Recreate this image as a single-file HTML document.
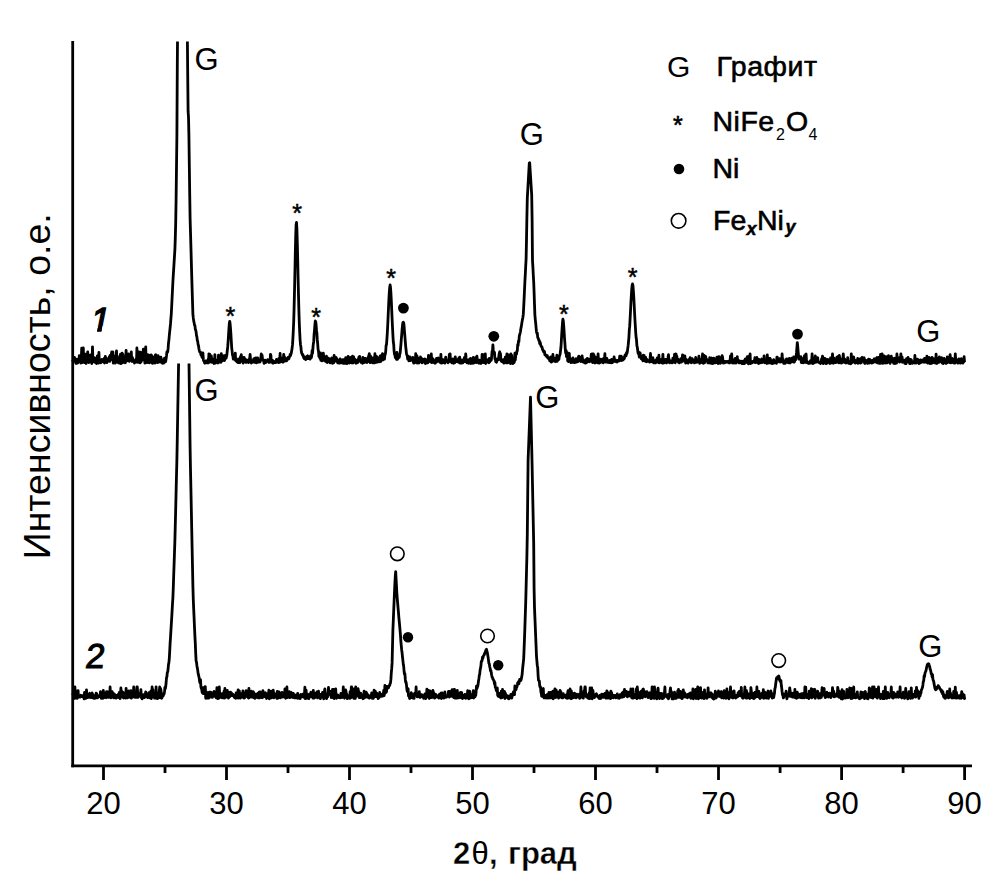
<!DOCTYPE html>
<html><head><meta charset="utf-8"><style>
html,body{margin:0;padding:0;background:#fff;width:1004px;height:892px;overflow:hidden}
svg{display:block}
</style></head><body>
<svg width="1004" height="892" viewBox="0 0 1004 892">
<style>
text{font-family:'Liberation Sans', sans-serif;fill:#000}
.tl{font-size:31px}
.g{font-size:31px}
.st{font-size:25px;stroke:#000;stroke-width:0.5px}
.lg{font-size:28px}
.lb text{font-size:28.5px;stroke:#000;stroke-width:0.6px}
.xl text{font-size:31px;font-weight:bold;stroke:#fff;stroke-width:0.35px;paint-order:normal}
</style>
<g fill="none" stroke="#000" stroke-width="2.8" stroke-linejoin="round">
<path d="M72.5 359.6 L72.9 360.5 L73.3 361.0 L73.7 359.4 L74.1 361.1 L74.5 357.4 L74.9 359.3 L75.3 359.8 L75.7 362.8 L76.1 363.4 L76.5 362.7 L76.9 359.1 L77.3 359.8 L77.7 363.1 L78.1 359.1 L78.5 361.9 L78.9 361.9 L79.3 355.7 L79.7 360.0 L80.1 359.4 L80.5 359.4 L80.9 363.1 L81.3 359.2 L81.7 348.1 L82.1 362.6 L82.5 357.3 L82.9 356.8 L83.3 348.0 L83.7 361.6 L84.1 361.1 L84.5 362.6 L84.9 360.3 L85.3 354.2 L85.7 361.9 L86.1 363.5 L86.5 360.0 L86.9 356.8 L87.3 360.8 L87.7 351.8 L88.1 360.6 L88.5 360.1 L88.9 362.5 L89.3 361.0 L89.7 356.9 L90.1 356.9 L90.5 354.8 L90.9 357.3 L91.3 358.3 L91.7 363.5 L92.1 362.1 L92.5 346.9 L92.9 361.5 L93.3 357.7 L93.7 360.3 L94.1 357.6 L94.5 359.9 L94.9 362.4 L95.3 362.0 L95.7 358.9 L96.1 361.4 L96.5 363.5 L96.9 358.2 L97.3 355.9 L97.7 356.4 L98.1 356.3 L98.5 363.1 L98.9 352.3 L99.3 360.5 L99.7 362.2 L100.1 361.3 L100.5 361.9 L100.9 362.7 L101.3 360.2 L101.7 359.6 L102.1 360.7 L102.5 359.6 L102.9 360.6 L103.3 361.9 L103.7 361.6 L104.1 358.4 L104.5 363.0 L104.9 361.5 L105.3 356.5 L105.7 359.4 L106.1 357.8 L106.5 360.1 L106.9 362.6 L107.3 361.2 L107.7 359.8 L108.1 361.2 L108.5 360.6 L108.9 359.6 L109.3 356.8 L109.7 361.3 L110.1 355.4 L110.5 360.1 L110.9 356.3 L111.3 355.5 L111.7 351.8 L112.1 355.9 L112.5 355.8 L112.9 352.0 L113.3 363.2 L113.7 362.3 L114.1 356.0 L114.5 359.5 L114.9 359.5 L115.3 363.0 L115.7 362.2 L116.1 357.6 L116.5 350.8 L116.9 361.6 L117.3 362.0 L117.7 361.8 L118.1 358.3 L118.5 362.9 L118.9 359.9 L119.3 363.0 L119.7 356.2 L120.1 359.4 L120.5 354.2 L120.9 363.6 L121.3 363.5 L121.7 361.6 L122.1 353.1 L122.5 362.6 L122.9 354.3 L123.3 359.5 L123.7 359.5 L124.1 357.4 L124.5 362.3 L124.9 361.6 L125.3 362.7 L125.7 359.7 L126.1 350.3 L126.5 361.1 L126.9 358.2 L127.3 358.7 L127.7 359.3 L128.1 360.5 L128.5 354.0 L128.9 359.7 L129.3 361.3 L129.7 355.3 L130.1 356.8 L130.5 355.5 L130.9 360.3 L131.3 351.9 L131.7 359.8 L132.1 361.5 L132.5 357.6 L132.9 360.7 L133.3 359.9 L133.7 360.9 L134.1 360.4 L134.5 363.1 L134.9 362.0 L135.3 361.8 L135.7 360.6 L136.1 358.9 L136.5 362.2 L136.9 348.0 L137.3 360.3 L137.7 358.4 L138.1 362.4 L138.5 362.1 L138.9 351.8 L139.3 357.4 L139.7 360.3 L140.1 362.8 L140.5 352.1 L140.9 362.1 L141.3 361.2 L141.7 360.3 L142.1 358.5 L142.5 359.8 L142.9 359.9 L143.3 349.2 L143.7 359.4 L144.1 358.1 L144.5 356.7 L144.9 363.2 L145.3 358.5 L145.7 346.9 L146.1 361.8 L146.5 359.8 L146.9 362.5 L147.3 362.5 L147.7 354.7 L148.1 361.1 L148.5 360.1 L148.9 360.7 L149.3 362.9 L149.7 360.3 L150.1 355.1 L150.5 361.8 L150.9 358.1 L151.3 354.9 L151.7 362.6 L152.1 356.2 L152.5 363.4 L152.9 357.2 L153.3 360.8 L153.7 362.5 L154.1 360.2 L154.5 361.5 L154.9 363.2 L155.3 355.2 L155.7 354.7 L156.1 362.3 L156.5 361.0 L156.9 361.2 L157.3 360.6 L157.7 362.7 L158.1 355.7 L158.5 359.6 L158.9 362.2 L159.3 361.2 L159.7 361.8 L160.1 360.4 L160.5 357.2 L160.9 357.2 L161.3 362.4 L161.7 359.4 L162.1 362.1 L162.5 363.2 L162.9 362.4 L163.3 359.8 L163.7 363.0 L164.1 361.7 L164.5 358.2 L164.9 361.7 L165.3 361.8 L165.7 361.3 L166.1 358.7 L166.5 355.9 L166.9 351.9 L167.3 352.4 L167.7 351.8 L168.1 348.7 L168.5 343.0 L168.9 340.1 L169.3 335.5 L169.7 331.7 L170.1 327.8 L170.5 323.9 L170.9 318.6 L171.3 313.8 L171.7 306.0 L172.1 297.7 L172.5 289.7 L172.9 281.8 L173.3 274.8 L173.7 268.8 L174.1 262.3 L174.5 255.8 L174.9 249.4 L175.3 238.3 L175.7 222.8 L176.1 199.3 L176.5 167.5 L176.9 135.8 L177.3 66.6 L177.5 41.5 M187.4 41.5 L187.7 73.5 L188.1 111.4 L188.5 117.0 L188.9 134.4 L189.3 163.9 L189.7 193.1 L190.1 218.3 L190.5 232.2 L190.9 246.1 L191.3 260.6 L191.7 274.9 L192.1 288.4 L192.5 301.4 L192.9 314.1 L193.3 317.9 L193.7 320.9 L194.1 322.6 L194.5 325.1 L194.9 325.4 L195.3 329.1 L195.7 330.0 L196.1 331.9 L196.5 335.5 L196.9 336.8 L197.3 340.3 L197.7 341.4 L198.1 344.7 L198.5 345.5 L198.9 348.5 L199.3 350.5 L199.7 352.0 L200.1 351.8 L200.5 352.0 L200.9 354.8 L201.3 355.2 L201.7 355.4 L202.1 357.4 L202.5 354.9 L202.9 352.9 L203.3 359.2 L203.7 361.0 L204.1 361.0 L204.5 362.6 L204.9 363.2 L205.3 362.5 L205.7 360.8 L206.1 361.9 L206.5 362.7 L206.9 362.8 L207.3 361.3 L207.7 361.9 L208.1 359.5 L208.5 362.8 L208.9 353.8 L209.3 361.5 L209.7 354.2 L210.1 361.9 L210.5 360.1 L210.9 362.1 L211.3 355.9 L211.7 359.5 L212.1 362.4 L212.5 361.6 L212.9 359.5 L213.3 362.4 L213.7 362.2 L214.1 363.5 L214.5 360.6 L214.9 354.6 L215.3 363.2 L215.7 362.8 L216.1 360.9 L216.5 360.3 L216.9 360.4 L217.3 361.6 L217.7 361.9 L218.1 363.0 L218.5 355.1 L218.9 357.2 L219.3 362.0 L219.7 360.9 L220.1 361.3 L220.5 361.5 L220.9 362.2 L221.3 353.6 L221.7 357.6 L222.1 358.8 L222.5 360.8 L222.9 359.7 L223.3 355.8 L223.7 359.8 L224.1 355.8 L224.5 360.6 L224.9 357.9 L225.3 355.4 L225.7 356.7 L226.1 358.2 L226.5 356.5 L226.9 354.6 L227.3 350.5 L227.7 346.9 L228.1 341.8 L228.5 335.7 L228.9 329.0 L229.3 323.7 L229.7 321.3 L230.1 323.5 L230.5 328.3 L230.9 334.0 L231.3 341.0 L231.7 347.6 L232.1 351.2 L232.5 355.1 L232.9 355.8 L233.3 359.0 L233.7 358.4 L234.1 358.7 L234.5 358.1 L234.9 359.6 L235.3 353.1 L235.7 360.7 L236.1 358.3 L236.5 361.0 L236.9 361.8 L237.3 361.2 L237.7 362.3 L238.1 360.3 L238.5 362.7 L238.9 358.8 L239.3 360.9 L239.7 359.3 L240.1 362.5 L240.5 356.7 L240.9 357.8 L241.3 354.6 L241.7 361.2 L242.1 359.1 L242.5 361.2 L242.9 357.7 L243.3 363.1 L243.7 361.0 L244.1 357.3 L244.5 359.0 L244.9 358.9 L245.3 359.2 L245.7 360.8 L246.1 362.5 L246.5 360.1 L246.9 361.9 L247.3 361.6 L247.7 361.4 L248.1 361.2 L248.5 362.6 L248.9 359.5 L249.3 360.8 L249.7 358.1 L250.1 354.4 L250.5 359.3 L250.9 360.9 L251.3 363.0 L251.7 361.3 L252.1 360.8 L252.5 360.6 L252.9 361.1 L253.3 362.1 L253.7 358.9 L254.1 360.8 L254.5 358.4 L254.9 362.3 L255.3 360.5 L255.7 357.9 L256.1 357.9 L256.5 362.8 L256.9 361.3 L257.3 361.8 L257.7 357.9 L258.1 360.2 L258.5 362.2 L258.9 361.2 L259.3 362.0 L259.7 361.1 L260.1 361.9 L260.5 360.7 L260.9 357.8 L261.3 353.8 L261.7 359.1 L262.1 355.2 L262.5 359.5 L262.9 359.3 L263.3 360.1 L263.7 361.3 L264.1 363.4 L264.5 362.6 L264.9 361.5 L265.3 360.3 L265.7 362.5 L266.1 361.1 L266.5 361.4 L266.9 361.3 L267.3 361.0 L267.7 359.7 L268.1 361.7 L268.5 361.3 L268.9 362.4 L269.3 361.7 L269.7 362.3 L270.1 360.1 L270.5 354.3 L270.9 355.4 L271.3 362.0 L271.7 360.0 L272.1 360.8 L272.5 360.1 L272.9 363.2 L273.3 362.1 L273.7 361.3 L274.1 362.7 L274.5 362.4 L274.9 362.3 L275.3 362.3 L275.7 362.6 L276.1 361.3 L276.5 359.4 L276.9 360.3 L277.3 361.3 L277.7 361.1 L278.1 360.7 L278.5 362.7 L278.9 358.4 L279.3 361.7 L279.7 362.3 L280.1 353.5 L280.5 361.9 L280.9 361.0 L281.3 361.5 L281.7 358.1 L282.1 360.8 L282.5 361.9 L282.9 362.2 L283.3 360.9 L283.7 354.4 L284.1 361.3 L284.5 356.8 L284.9 360.9 L285.3 359.9 L285.7 359.0 L286.1 359.5 L286.5 360.9 L286.9 359.8 L287.3 358.2 L287.7 359.2 L288.1 357.4 L288.5 359.2 L288.9 358.7 L289.3 357.2 L289.7 356.7 L290.1 354.5 L290.5 355.6 L290.9 354.2 L291.3 353.1 L291.7 350.7 L292.1 348.1 L292.5 344.9 L292.9 338.7 L293.3 330.6 L293.7 321.6 L294.1 308.0 L294.5 291.6 L294.9 272.7 L295.3 253.7 L295.7 236.4 L296.1 224.8 L296.5 222.4 L296.9 228.9 L297.3 242.6 L297.7 259.1 L298.1 278.2 L298.5 295.1 L298.9 310.8 L299.3 323.1 L299.7 332.3 L300.1 340.0 L300.5 344.7 L300.9 346.8 L301.3 351.4 L301.7 353.3 L302.1 353.6 L302.5 355.0 L302.9 354.5 L303.3 356.2 L303.7 357.6 L304.1 358.5 L304.5 356.8 L304.9 358.4 L305.3 357.7 L305.7 359.6 L306.1 359.1 L306.5 357.8 L306.9 356.4 L307.3 356.4 L307.7 355.8 L308.1 358.6 L308.5 356.7 L308.9 358.0 L309.3 358.8 L309.7 359.0 L310.1 359.1 L310.5 355.9 L310.9 357.4 L311.3 357.6 L311.7 356.1 L312.1 350.7 L312.5 353.4 L312.9 348.6 L313.3 344.0 L313.7 341.7 L314.1 334.4 L314.5 330.3 L314.9 325.0 L315.3 321.0 L315.7 321.5 L316.1 324.8 L316.5 330.2 L316.9 333.5 L317.3 339.9 L317.7 344.0 L318.1 349.5 L318.5 351.0 L318.9 356.4 L319.3 356.9 L319.7 357.0 L320.1 358.7 L320.5 352.9 L320.9 360.4 L321.3 358.3 L321.7 357.7 L322.1 360.9 L322.5 358.0 L322.9 359.2 L323.3 353.2 L323.7 356.4 L324.1 360.4 L324.5 358.1 L324.9 359.6 L325.3 361.3 L325.7 359.2 L326.1 359.6 L326.5 356.2 L326.9 362.4 L327.3 362.5 L327.7 362.0 L328.1 359.4 L328.5 358.2 L328.9 361.1 L329.3 360.4 L329.7 360.9 L330.1 362.9 L330.5 362.2 L330.9 358.8 L331.3 359.0 L331.7 358.0 L332.1 359.5 L332.5 363.3 L332.9 360.5 L333.3 360.3 L333.7 362.8 L334.1 355.3 L334.5 361.4 L334.9 358.8 L335.3 359.3 L335.7 359.8 L336.1 357.3 L336.5 361.4 L336.9 358.8 L337.3 360.2 L337.7 362.8 L338.1 362.2 L338.5 362.8 L338.9 363.1 L339.3 360.2 L339.7 363.0 L340.1 358.8 L340.5 361.7 L340.9 361.7 L341.3 362.9 L341.7 360.5 L342.1 362.6 L342.5 359.8 L342.9 359.7 L343.3 363.3 L343.7 360.2 L344.1 363.4 L344.5 359.3 L344.9 363.4 L345.3 362.8 L345.7 357.7 L346.1 360.8 L346.5 359.7 L346.9 363.5 L347.3 359.4 L347.7 362.6 L348.1 356.3 L348.5 361.2 L348.9 361.5 L349.3 363.2 L349.7 362.7 L350.1 361.4 L350.5 357.5 L350.9 357.8 L351.3 361.8 L351.7 362.9 L352.1 363.0 L352.5 356.2 L352.9 360.7 L353.3 362.8 L353.7 356.9 L354.1 360.1 L354.5 359.5 L354.9 359.2 L355.3 360.6 L355.7 362.2 L356.1 363.3 L356.5 363.1 L356.9 362.6 L357.3 360.1 L357.7 362.5 L358.1 359.3 L358.5 359.0 L358.9 356.9 L359.3 356.7 L359.7 356.4 L360.1 360.8 L360.5 360.9 L360.9 362.3 L361.3 360.7 L361.7 361.0 L362.1 362.3 L362.5 363.3 L362.9 357.4 L363.3 359.9 L363.7 362.7 L364.1 362.0 L364.5 358.4 L364.9 362.1 L365.3 360.5 L365.7 358.4 L366.1 359.0 L366.5 361.4 L366.9 362.5 L367.3 361.8 L367.7 359.3 L368.1 361.5 L368.5 356.1 L368.9 355.4 L369.3 353.7 L369.7 359.3 L370.1 362.7 L370.5 355.8 L370.9 359.1 L371.3 362.1 L371.7 362.4 L372.1 362.0 L372.5 360.6 L372.9 362.8 L373.3 357.7 L373.7 361.6 L374.1 359.6 L374.5 362.9 L374.9 353.7 L375.3 358.2 L375.7 361.0 L376.1 362.4 L376.5 356.4 L376.9 361.4 L377.3 361.4 L377.7 362.0 L378.1 357.9 L378.5 360.7 L378.9 360.5 L379.3 361.2 L379.7 361.9 L380.1 356.2 L380.5 355.7 L380.9 361.4 L381.3 356.7 L381.7 359.9 L382.1 359.9 L382.5 353.7 L382.9 354.0 L383.3 359.8 L383.7 357.4 L384.1 359.1 L384.5 359.1 L384.9 354.8 L385.3 354.2 L385.7 351.5 L386.1 345.5 L386.5 344.4 L386.9 339.3 L387.3 333.0 L387.7 325.8 L388.1 316.8 L388.5 308.1 L388.9 299.3 L389.3 292.4 L389.7 287.5 L390.1 285.0 L390.5 287.5 L390.9 292.7 L391.3 300.2 L391.7 309.6 L392.1 318.8 L392.5 327.1 L392.9 335.0 L393.3 342.0 L393.7 344.3 L394.1 351.1 L394.5 354.2 L394.9 354.9 L395.3 357.5 L395.7 355.0 L396.1 357.6 L396.5 359.4 L396.9 352.4 L397.3 359.3 L397.7 358.8 L398.1 358.0 L398.5 357.5 L398.9 356.7 L399.3 357.4 L399.7 354.4 L400.1 353.2 L400.5 349.0 L400.9 344.7 L401.3 339.3 L401.7 334.9 L402.1 329.3 L402.5 325.3 L402.9 322.4 L403.3 322.2 L403.7 322.9 L404.1 326.2 L404.5 331.9 L404.9 336.5 L405.3 341.6 L405.7 346.6 L406.1 350.0 L406.5 353.9 L406.9 355.1 L407.3 355.8 L407.7 359.0 L408.1 357.9 L408.5 356.3 L408.9 360.8 L409.3 357.5 L409.7 357.5 L410.1 357.1 L410.5 360.5 L410.9 360.1 L411.3 360.1 L411.7 358.7 L412.1 359.1 L412.5 360.1 L412.9 357.3 L413.3 362.0 L413.7 363.1 L414.1 361.9 L414.5 363.0 L414.9 361.3 L415.3 362.3 L415.7 353.7 L416.1 362.1 L416.5 362.5 L416.9 355.7 L417.3 363.1 L417.7 358.1 L418.1 357.9 L418.5 361.4 L418.9 363.0 L419.3 362.2 L419.7 360.9 L420.1 359.1 L420.5 357.0 L420.9 360.3 L421.3 361.5 L421.7 358.5 L422.1 362.8 L422.5 362.4 L422.9 360.9 L423.3 359.4 L423.7 360.3 L424.1 360.1 L424.5 362.1 L424.9 358.8 L425.3 363.5 L425.7 362.4 L426.1 363.1 L426.5 362.9 L426.9 360.4 L427.3 359.4 L427.7 362.8 L428.1 361.4 L428.5 355.3 L428.9 360.7 L429.3 357.1 L429.7 358.6 L430.1 358.2 L430.5 361.9 L430.9 360.5 L431.3 353.8 L431.7 362.6 L432.1 357.9 L432.5 362.3 L432.9 361.2 L433.3 359.1 L433.7 362.1 L434.1 361.0 L434.5 363.0 L434.9 361.6 L435.3 363.2 L435.7 360.5 L436.1 361.2 L436.5 358.5 L436.9 361.8 L437.3 358.6 L437.7 358.2 L438.1 358.0 L438.5 359.5 L438.9 360.4 L439.3 360.8 L439.7 362.2 L440.1 361.5 L440.5 361.5 L440.9 354.4 L441.3 363.1 L441.7 361.9 L442.1 360.9 L442.5 362.8 L442.9 359.7 L443.3 362.5 L443.7 360.6 L444.1 361.4 L444.5 360.0 L444.9 363.2 L445.3 360.7 L445.7 357.2 L446.1 359.3 L446.5 361.4 L446.9 361.3 L447.3 361.1 L447.7 361.8 L448.1 362.7 L448.5 361.4 L448.9 361.6 L449.3 354.5 L449.7 360.3 L450.1 353.9 L450.5 361.5 L450.9 360.6 L451.3 361.4 L451.7 362.7 L452.1 362.9 L452.5 361.9 L452.9 358.9 L453.3 363.0 L453.7 363.2 L454.1 361.5 L454.5 362.5 L454.9 362.6 L455.3 356.8 L455.7 361.6 L456.1 360.2 L456.5 361.6 L456.9 359.6 L457.3 361.7 L457.7 361.8 L458.1 359.9 L458.5 360.6 L458.9 357.9 L459.3 362.6 L459.7 357.1 L460.1 363.1 L460.5 362.2 L460.9 361.3 L461.3 363.1 L461.7 362.5 L462.1 359.8 L462.5 362.0 L462.9 362.7 L463.3 359.8 L463.7 361.3 L464.1 360.2 L464.5 357.3 L464.9 361.5 L465.3 360.8 L465.7 353.9 L466.1 357.9 L466.5 361.1 L466.9 362.7 L467.3 360.6 L467.7 362.7 L468.1 362.3 L468.5 363.2 L468.9 359.7 L469.3 361.5 L469.7 362.0 L470.1 363.0 L470.5 358.3 L470.9 363.5 L471.3 358.7 L471.7 360.7 L472.1 362.4 L472.5 361.3 L472.9 363.3 L473.3 357.5 L473.7 363.2 L474.1 362.4 L474.5 359.3 L474.9 362.2 L475.3 358.0 L475.7 361.1 L476.1 362.6 L476.5 362.3 L476.9 356.1 L477.3 359.3 L477.7 360.2 L478.1 361.4 L478.5 362.8 L478.9 363.2 L479.3 360.1 L479.7 362.4 L480.1 362.0 L480.5 363.0 L480.9 363.4 L481.3 361.3 L481.7 362.8 L482.1 354.4 L482.5 356.6 L482.9 357.8 L483.3 358.5 L483.7 362.7 L484.1 358.4 L484.5 354.5 L484.9 360.0 L485.3 353.8 L485.7 363.5 L486.1 361.5 L486.5 361.8 L486.9 359.8 L487.3 361.3 L487.7 359.9 L488.1 360.9 L488.5 362.4 L488.9 362.8 L489.3 358.4 L489.7 361.9 L490.1 359.5 L490.5 359.6 L490.9 360.4 L491.3 360.0 L491.7 356.0 L492.1 351.2 L492.5 351.0 L492.9 344.8 L493.3 349.9 L493.7 352.7 L494.1 353.6 L494.5 352.3 L494.9 359.0 L495.3 358.5 L495.7 361.5 L496.1 360.6 L496.5 362.3 L496.9 359.2 L497.3 359.5 L497.7 359.2 L498.1 358.4 L498.5 359.8 L498.9 355.8 L499.3 353.2 L499.7 351.8 L500.1 353.1 L500.5 353.8 L500.9 359.5 L501.3 361.3 L501.7 361.5 L502.1 361.1 L502.5 361.4 L502.9 360.7 L503.3 359.6 L503.7 363.1 L504.1 363.2 L504.5 362.4 L504.9 362.3 L505.3 357.1 L505.7 361.9 L506.1 359.0 L506.5 362.9 L506.9 353.8 L507.3 358.8 L507.7 362.9 L508.1 361.7 L508.5 354.9 L508.9 360.4 L509.3 362.3 L509.7 359.0 L510.1 360.3 L510.5 363.6 L510.9 353.9 L511.3 358.6 L511.7 355.1 L512.1 362.3 L512.5 362.6 L512.9 363.5 L513.3 361.1 L513.7 362.5 L514.1 362.6 L514.5 361.4 L514.9 353.2 L515.3 359.8 L515.7 355.8 L516.1 353.3 L516.5 354.1 L516.9 351.0 L517.3 350.8 L517.7 344.7 L518.1 345.7 L518.5 340.8 L518.9 341.7 L519.3 336.1 L519.7 334.6 L520.1 333.1 L520.5 331.2 L520.9 328.4 L521.3 326.6 L521.7 324.0 L522.1 321.4 L522.5 319.2 L522.9 317.2 L523.3 314.2 L523.7 306.9 L524.1 299.1 L524.5 290.3 L524.9 281.5 L525.3 274.4 L525.7 266.2 L526.1 259.0 L526.5 240.0 L526.9 217.1 L527.3 198.2 L527.7 191.1 L528.1 184.1 L528.5 177.1 L528.9 170.1 L529.3 163.0 L529.7 162.8 L530.1 169.3 L530.5 175.7 L530.9 182.2 L531.3 188.7 L531.7 195.1 L532.1 218.8 L532.5 260.7 L532.9 267.1 L533.3 275.2 L533.7 282.0 L534.1 292.3 L534.5 304.5 L534.9 315.1 L535.3 319.6 L535.7 323.1 L536.1 327.9 L536.5 331.7 L536.9 333.5 L537.3 333.1 L537.7 337.2 L538.1 338.3 L538.5 339.0 L538.9 340.7 L539.3 340.5 L539.7 343.7 L540.1 342.1 L540.5 344.2 L540.9 345.6 L541.3 346.6 L541.7 346.9 L542.1 347.2 L542.5 349.4 L542.9 350.3 L543.3 351.0 L543.7 352.0 L544.1 351.0 L544.5 351.9 L544.9 354.7 L545.3 354.5 L545.7 355.5 L546.1 355.3 L546.5 356.0 L546.9 356.9 L547.3 355.5 L547.7 357.7 L548.1 357.3 L548.5 358.7 L548.9 357.8 L549.3 358.5 L549.7 360.8 L550.1 360.2 L550.5 360.7 L550.9 357.0 L551.3 362.2 L551.7 360.6 L552.1 361.0 L552.5 361.3 L552.9 354.5 L553.3 360.2 L553.7 358.1 L554.1 357.9 L554.5 360.1 L554.9 359.9 L555.3 361.6 L555.7 361.4 L556.1 360.1 L556.5 358.1 L556.9 355.2 L557.3 361.3 L557.7 358.6 L558.1 357.1 L558.5 359.7 L558.9 359.3 L559.3 356.4 L559.7 355.2 L560.1 354.3 L560.5 350.8 L560.9 347.8 L561.3 341.8 L561.7 334.7 L562.1 328.7 L562.5 322.5 L562.9 319.1 L563.3 320.8 L563.7 325.3 L564.1 331.3 L564.5 338.0 L564.9 343.2 L565.3 349.3 L565.7 353.1 L566.1 350.4 L566.5 356.6 L566.9 356.9 L567.3 352.5 L567.7 361.0 L568.1 359.9 L568.5 361.7 L568.9 356.9 L569.3 353.3 L569.7 360.5 L570.1 359.1 L570.5 358.7 L570.9 362.5 L571.3 361.2 L571.7 359.9 L572.1 362.4 L572.5 361.6 L572.9 357.8 L573.3 359.7 L573.7 362.4 L574.1 362.3 L574.5 359.9 L574.9 362.7 L575.3 362.2 L575.7 361.2 L576.1 358.6 L576.5 362.0 L576.9 361.6 L577.3 360.8 L577.7 361.8 L578.1 361.5 L578.5 356.7 L578.9 356.2 L579.3 360.2 L579.7 360.5 L580.1 360.6 L580.5 357.4 L580.9 361.7 L581.3 358.5 L581.7 359.1 L582.1 355.9 L582.5 358.7 L582.9 361.8 L583.3 360.3 L583.7 360.3 L584.1 362.5 L584.5 361.9 L584.9 362.8 L585.3 363.1 L585.7 359.7 L586.1 362.9 L586.5 360.9 L586.9 362.3 L587.3 358.5 L587.7 360.3 L588.1 360.3 L588.5 359.1 L588.9 360.9 L589.3 361.7 L589.7 361.1 L590.1 360.3 L590.5 361.3 L590.9 358.9 L591.3 354.1 L591.7 360.7 L592.1 353.8 L592.5 362.5 L592.9 362.5 L593.3 353.8 L593.7 359.4 L594.1 355.4 L594.5 357.8 L594.9 363.0 L595.3 356.8 L595.7 360.7 L596.1 362.3 L596.5 359.6 L596.9 360.3 L597.3 360.0 L597.7 362.8 L598.1 353.8 L598.5 361.4 L598.9 358.6 L599.3 363.1 L599.7 362.8 L600.1 359.8 L600.5 359.1 L600.9 362.2 L601.3 359.3 L601.7 362.1 L602.1 362.0 L602.5 362.2 L602.9 359.0 L603.3 362.9 L603.7 360.9 L604.1 358.3 L604.5 359.4 L604.9 353.7 L605.3 361.4 L605.7 359.5 L606.1 362.2 L606.5 360.8 L606.9 358.5 L607.3 360.3 L607.7 362.2 L608.1 362.4 L608.5 361.9 L608.9 362.5 L609.3 362.5 L609.7 360.5 L610.1 362.6 L610.5 362.1 L610.9 360.0 L611.3 362.8 L611.7 359.5 L612.1 362.2 L612.5 362.5 L612.9 361.3 L613.3 361.5 L613.7 361.2 L614.1 356.9 L614.5 360.5 L614.9 361.3 L615.3 359.7 L615.7 360.0 L616.1 361.8 L616.5 361.2 L616.9 361.3 L617.3 361.9 L617.7 360.4 L618.1 361.1 L618.5 360.4 L618.9 359.9 L619.3 360.9 L619.7 356.2 L620.1 359.5 L620.5 360.0 L620.9 359.4 L621.3 356.2 L621.7 360.5 L622.1 357.5 L622.5 360.2 L622.9 357.7 L623.3 359.8 L623.7 358.6 L624.1 358.8 L624.5 358.1 L624.9 355.4 L625.3 354.7 L625.7 356.0 L626.1 355.9 L626.5 352.7 L626.9 353.7 L627.3 352.0 L627.7 348.8 L628.1 345.9 L628.5 341.9 L628.9 337.6 L629.3 329.9 L629.7 326.2 L630.1 318.9 L630.5 311.3 L630.9 302.9 L631.3 296.0 L631.7 289.8 L632.1 285.4 L632.5 283.9 L632.9 285.2 L633.3 289.9 L633.7 295.5 L634.1 303.2 L634.5 311.2 L634.9 319.0 L635.3 325.6 L635.7 332.3 L636.1 337.3 L636.5 339.9 L636.9 345.7 L637.3 347.3 L637.7 350.3 L638.1 353.4 L638.5 351.9 L638.9 354.0 L639.3 357.0 L639.7 356.1 L640.1 352.8 L640.5 355.8 L640.9 356.5 L641.3 358.8 L641.7 358.5 L642.1 357.9 L642.5 359.9 L642.9 360.8 L643.3 355.1 L643.7 360.3 L644.1 355.3 L644.5 360.0 L644.9 360.9 L645.3 361.3 L645.7 357.5 L646.1 360.6 L646.5 361.7 L646.9 359.4 L647.3 360.3 L647.7 361.3 L648.1 361.4 L648.5 361.4 L648.9 360.5 L649.3 361.3 L649.7 362.1 L650.1 358.2 L650.5 353.5 L650.9 361.0 L651.3 360.7 L651.7 358.3 L652.1 361.8 L652.5 360.1 L652.9 357.6 L653.3 361.3 L653.7 362.9 L654.1 362.5 L654.5 362.0 L654.9 361.0 L655.3 362.9 L655.7 362.8 L656.1 360.1 L656.5 359.5 L656.9 361.3 L657.3 358.0 L657.7 358.2 L658.1 358.5 L658.5 362.7 L658.9 355.2 L659.3 362.9 L659.7 361.7 L660.1 360.5 L660.5 361.5 L660.9 359.6 L661.3 361.6 L661.7 362.8 L662.1 361.3 L662.5 363.0 L662.9 354.4 L663.3 363.2 L663.7 359.7 L664.1 362.8 L664.5 362.4 L664.9 362.2 L665.3 359.4 L665.7 361.2 L666.1 361.0 L666.5 363.0 L666.9 359.2 L667.3 361.7 L667.7 362.0 L668.1 357.1 L668.5 354.7 L668.9 361.1 L669.3 359.4 L669.7 362.9 L670.1 361.6 L670.5 360.9 L670.9 362.0 L671.3 362.3 L671.7 361.5 L672.1 362.9 L672.5 361.5 L672.9 358.2 L673.3 358.8 L673.7 360.7 L674.1 362.2 L674.5 354.4 L674.9 361.1 L675.3 362.8 L675.7 353.8 L676.1 354.1 L676.5 361.1 L676.9 356.5 L677.3 360.3 L677.7 360.9 L678.1 359.2 L678.5 362.3 L678.9 362.3 L679.3 362.8 L679.7 360.3 L680.1 361.3 L680.5 361.4 L680.9 358.6 L681.3 362.2 L681.7 361.6 L682.1 360.2 L682.5 354.9 L682.9 355.0 L683.3 359.5 L683.7 361.0 L684.1 359.6 L684.5 359.6 L684.9 356.0 L685.3 361.3 L685.7 363.2 L686.1 359.5 L686.5 362.1 L686.9 361.3 L687.3 362.5 L687.7 360.8 L688.1 363.1 L688.5 361.8 L688.9 359.5 L689.3 361.7 L689.7 361.9 L690.1 357.6 L690.5 361.6 L690.9 361.8 L691.3 362.8 L691.7 360.5 L692.1 358.6 L692.5 360.6 L692.9 362.1 L693.3 360.0 L693.7 361.2 L694.1 361.9 L694.5 362.9 L694.9 360.3 L695.3 361.2 L695.7 357.5 L696.1 362.4 L696.5 361.1 L696.9 360.2 L697.3 362.2 L697.7 361.9 L698.1 361.8 L698.5 360.4 L698.9 356.1 L699.3 360.1 L699.7 363.3 L700.1 362.7 L700.5 361.4 L700.9 359.5 L701.3 360.8 L701.7 359.7 L702.1 362.5 L702.5 353.9 L702.9 361.8 L703.3 363.3 L703.7 361.2 L704.1 355.3 L704.5 362.8 L704.9 359.8 L705.3 360.2 L705.7 356.4 L706.1 360.6 L706.5 359.0 L706.9 360.6 L707.3 360.1 L707.7 362.7 L708.1 362.9 L708.5 360.8 L708.9 361.3 L709.3 361.0 L709.7 357.7 L710.1 363.1 L710.5 361.4 L710.9 358.1 L711.3 357.9 L711.7 362.8 L712.1 363.5 L712.5 359.8 L712.9 360.3 L713.3 363.3 L713.7 358.1 L714.1 362.2 L714.5 362.0 L714.9 360.2 L715.3 359.3 L715.7 362.8 L716.1 360.8 L716.5 361.5 L716.9 357.1 L717.3 362.6 L717.7 357.2 L718.1 363.5 L718.5 359.9 L718.9 356.6 L719.3 359.7 L719.7 357.5 L720.1 358.6 L720.5 363.3 L720.9 362.4 L721.3 358.0 L721.7 360.8 L722.1 355.6 L722.5 357.0 L722.9 360.2 L723.3 363.0 L723.7 361.2 L724.1 362.1 L724.5 362.9 L724.9 361.8 L725.3 362.1 L725.7 361.4 L726.1 361.5 L726.5 362.0 L726.9 362.2 L727.3 361.4 L727.7 361.7 L728.1 361.4 L728.5 361.5 L728.9 362.7 L729.3 361.0 L729.7 363.0 L730.1 360.1 L730.5 356.0 L730.9 361.6 L731.3 361.2 L731.7 353.9 L732.1 361.6 L732.5 363.0 L732.9 360.5 L733.3 362.8 L733.7 359.8 L734.1 363.1 L734.5 361.1 L734.9 360.8 L735.3 358.3 L735.7 360.4 L736.1 363.0 L736.5 360.9 L736.9 361.2 L737.3 356.7 L737.7 362.1 L738.1 361.8 L738.5 360.4 L738.9 361.8 L739.3 362.9 L739.7 362.6 L740.1 361.1 L740.5 361.4 L740.9 362.8 L741.3 361.8 L741.7 361.2 L742.1 363.6 L742.5 363.4 L742.9 363.6 L743.3 363.5 L743.7 360.9 L744.1 361.1 L744.5 363.5 L744.9 359.8 L745.3 358.9 L745.7 361.4 L746.1 360.6 L746.5 360.6 L746.9 362.4 L747.3 356.6 L747.7 362.8 L748.1 362.2 L748.5 363.8 L748.9 356.3 L749.3 362.5 L749.7 356.3 L750.1 354.0 L750.5 363.7 L750.9 361.8 L751.3 361.5 L751.7 362.2 L752.1 362.8 L752.5 362.1 L752.9 361.4 L753.3 361.6 L753.7 362.0 L754.1 360.6 L754.5 361.9 L754.9 357.6 L755.3 362.7 L755.7 361.6 L756.1 360.4 L756.5 360.2 L756.9 357.5 L757.3 362.4 L757.7 359.1 L758.1 361.6 L758.5 363.6 L758.9 359.4 L759.3 363.2 L759.7 362.3 L760.1 360.4 L760.5 362.4 L760.9 362.8 L761.3 360.4 L761.7 359.0 L762.1 362.5 L762.5 362.1 L762.9 360.7 L763.3 361.4 L763.7 362.0 L764.1 355.9 L764.5 362.0 L764.9 362.8 L765.3 362.2 L765.7 360.7 L766.1 362.6 L766.5 362.9 L766.9 363.4 L767.3 354.8 L767.7 360.3 L768.1 363.1 L768.5 360.4 L768.9 360.6 L769.3 358.5 L769.7 362.9 L770.1 358.5 L770.5 359.6 L770.9 363.1 L771.3 361.2 L771.7 361.1 L772.1 360.9 L772.5 363.7 L772.9 361.0 L773.3 362.2 L773.7 359.6 L774.1 361.1 L774.5 362.4 L774.9 362.9 L775.3 362.0 L775.7 361.0 L776.1 361.6 L776.5 363.3 L776.9 357.1 L777.3 357.2 L777.7 361.4 L778.1 361.1 L778.5 360.3 L778.9 361.0 L779.3 361.9 L779.7 358.7 L780.1 361.8 L780.5 362.0 L780.9 361.4 L781.3 361.7 L781.7 361.1 L782.1 353.9 L782.5 359.4 L782.9 360.5 L783.3 359.4 L783.7 363.3 L784.1 361.9 L784.5 363.3 L784.9 362.6 L785.3 363.3 L785.7 361.1 L786.1 362.4 L786.5 359.0 L786.9 362.0 L787.3 362.1 L787.7 362.4 L788.1 362.7 L788.5 358.9 L788.9 359.0 L789.3 358.4 L789.7 361.7 L790.1 363.0 L790.5 361.2 L790.9 362.3 L791.3 361.3 L791.7 358.1 L792.1 359.9 L792.5 361.6 L792.9 361.5 L793.3 361.9 L793.7 356.8 L794.1 362.1 L794.5 361.8 L794.9 360.1 L795.3 357.2 L795.7 359.8 L796.1 356.3 L796.5 352.9 L796.9 347.9 L797.3 342.6 L797.7 346.0 L798.1 351.0 L798.5 355.2 L798.9 359.1 L799.3 359.0 L799.7 358.2 L800.1 359.1 L800.5 359.3 L800.9 356.7 L801.3 362.5 L801.7 358.5 L802.1 360.2 L802.5 362.2 L802.9 358.8 L803.3 362.8 L803.7 362.6 L804.1 360.7 L804.5 355.7 L804.9 359.3 L805.3 362.4 L805.7 354.3 L806.1 353.9 L806.5 360.9 L806.9 361.3 L807.3 362.9 L807.7 362.9 L808.1 363.2 L808.5 362.9 L808.9 363.4 L809.3 362.0 L809.7 362.7 L810.1 362.2 L810.5 360.7 L810.9 363.0 L811.3 362.7 L811.7 361.3 L812.1 353.9 L812.5 359.5 L812.9 363.6 L813.3 360.0 L813.7 360.5 L814.1 362.1 L814.5 362.8 L814.9 360.9 L815.3 355.9 L815.7 359.2 L816.1 362.1 L816.5 362.1 L816.9 360.4 L817.3 360.5 L817.7 357.7 L818.1 361.5 L818.5 361.9 L818.9 362.5 L819.3 362.2 L819.7 362.6 L820.1 362.7 L820.5 363.5 L820.9 362.6 L821.3 360.5 L821.7 358.6 L822.1 361.7 L822.5 356.1 L822.9 357.3 L823.3 363.7 L823.7 361.2 L824.1 361.3 L824.5 360.1 L824.9 358.4 L825.3 362.2 L825.7 359.0 L826.1 363.6 L826.5 360.1 L826.9 363.2 L827.3 363.2 L827.7 359.3 L828.1 362.6 L828.5 360.1 L828.9 361.7 L829.3 360.9 L829.7 362.2 L830.1 363.5 L830.5 358.0 L830.9 358.0 L831.3 361.3 L831.7 361.7 L832.1 362.7 L832.5 353.9 L832.9 362.9 L833.3 363.3 L833.7 361.8 L834.1 358.2 L834.5 362.3 L834.9 360.5 L835.3 360.4 L835.7 362.7 L836.1 359.9 L836.5 361.6 L836.9 357.2 L837.3 357.8 L837.7 362.0 L838.1 362.0 L838.5 356.2 L838.9 362.9 L839.3 355.4 L839.7 357.9 L840.1 362.3 L840.5 361.7 L840.9 359.3 L841.3 363.1 L841.7 362.9 L842.1 359.2 L842.5 360.8 L842.9 357.4 L843.3 353.9 L843.7 361.0 L844.1 362.3 L844.5 358.8 L844.9 360.0 L845.3 362.3 L845.7 362.9 L846.1 360.5 L846.5 362.2 L846.9 362.7 L847.3 362.5 L847.7 357.6 L848.1 361.8 L848.5 361.0 L848.9 363.3 L849.3 363.2 L849.7 363.6 L850.1 361.3 L850.5 362.5 L850.9 363.7 L851.3 353.9 L851.7 361.4 L852.1 362.7 L852.5 358.8 L852.9 357.5 L853.3 360.7 L853.7 357.0 L854.1 361.9 L854.5 359.6 L854.9 362.8 L855.3 363.1 L855.7 363.0 L856.1 360.9 L856.5 361.4 L856.9 362.4 L857.3 360.6 L857.7 358.5 L858.1 363.3 L858.5 360.0 L858.9 359.1 L859.3 360.7 L859.7 360.2 L860.1 362.0 L860.5 363.1 L860.9 358.5 L861.3 362.7 L861.7 360.1 L862.1 357.3 L862.5 358.6 L862.9 361.0 L863.3 361.0 L863.7 358.5 L864.1 357.8 L864.5 363.0 L864.9 363.4 L865.3 360.8 L865.7 360.1 L866.1 361.4 L866.5 361.3 L866.9 362.2 L867.3 361.0 L867.7 363.4 L868.1 360.3 L868.5 359.1 L868.9 360.2 L869.3 363.0 L869.7 359.3 L870.1 360.9 L870.5 361.7 L870.9 360.9 L871.3 360.7 L871.7 363.0 L872.1 360.4 L872.5 362.2 L872.9 362.7 L873.3 360.8 L873.7 361.1 L874.1 358.9 L874.5 360.0 L874.9 358.9 L875.3 362.2 L875.7 359.0 L876.1 359.7 L876.5 358.0 L876.9 357.5 L877.3 362.8 L877.7 362.9 L878.1 362.3 L878.5 357.4 L878.9 360.7 L879.3 363.3 L879.7 361.8 L880.1 363.4 L880.5 354.5 L880.9 360.1 L881.3 363.1 L881.7 360.5 L882.1 353.9 L882.5 360.4 L882.9 363.3 L883.3 362.1 L883.7 359.7 L884.1 355.8 L884.5 359.5 L884.9 359.9 L885.3 363.0 L885.7 359.6 L886.1 356.6 L886.5 362.7 L886.9 360.1 L887.3 362.8 L887.7 360.5 L888.1 361.7 L888.5 355.7 L888.9 357.4 L889.3 359.7 L889.7 360.6 L890.1 363.4 L890.5 361.9 L890.9 361.4 L891.3 356.2 L891.7 361.3 L892.1 358.1 L892.5 360.3 L892.9 359.8 L893.3 362.1 L893.7 363.3 L894.1 359.2 L894.5 358.3 L894.9 363.6 L895.3 362.3 L895.7 361.6 L896.1 359.6 L896.5 363.2 L896.9 354.0 L897.3 361.7 L897.7 360.3 L898.1 361.4 L898.5 358.0 L898.9 359.5 L899.3 357.8 L899.7 362.0 L900.1 360.5 L900.5 359.7 L900.9 353.9 L901.3 359.0 L901.7 361.3 L902.1 356.8 L902.5 362.3 L902.9 360.3 L903.3 360.4 L903.7 362.1 L904.1 361.7 L904.5 360.1 L904.9 363.4 L905.3 361.0 L905.7 363.7 L906.1 363.7 L906.5 358.6 L906.9 361.5 L907.3 359.5 L907.7 360.5 L908.1 357.4 L908.5 361.7 L908.9 362.3 L909.3 361.9 L909.7 363.7 L910.1 359.4 L910.5 363.6 L910.9 360.3 L911.3 359.6 L911.7 363.1 L912.1 363.1 L912.5 363.3 L912.9 362.9 L913.3 362.0 L913.7 362.6 L914.1 362.3 L914.5 362.9 L914.9 355.5 L915.3 361.3 L915.7 362.5 L916.1 363.1 L916.5 360.2 L916.9 361.3 L917.3 359.2 L917.7 361.5 L918.1 359.7 L918.5 362.5 L918.9 363.6 L919.3 362.5 L919.7 361.9 L920.1 363.0 L920.5 359.8 L920.9 360.5 L921.3 361.3 L921.7 362.3 L922.1 360.1 L922.5 361.8 L922.9 361.1 L923.3 359.6 L923.7 362.0 L924.1 362.2 L924.5 358.5 L924.9 362.2 L925.3 361.6 L925.7 358.5 L926.1 361.9 L926.5 362.3 L926.9 356.2 L927.3 360.0 L927.7 363.0 L928.1 361.4 L928.5 362.4 L928.9 361.8 L929.3 357.4 L929.7 363.5 L930.1 363.5 L930.5 360.2 L930.9 362.5 L931.3 362.7 L931.7 363.4 L932.1 357.4 L932.5 358.1 L932.9 361.8 L933.3 362.5 L933.7 359.9 L934.1 358.9 L934.5 360.8 L934.9 361.6 L935.3 363.1 L935.7 361.1 L936.1 354.1 L936.5 362.9 L936.9 363.4 L937.3 361.8 L937.7 358.6 L938.1 358.3 L938.5 362.3 L938.9 362.4 L939.3 357.0 L939.7 361.0 L940.1 359.3 L940.5 361.7 L940.9 359.7 L941.3 361.3 L941.7 357.6 L942.1 362.8 L942.5 363.2 L942.9 360.2 L943.3 363.7 L943.7 360.3 L944.1 358.4 L944.5 360.3 L944.9 361.1 L945.3 359.9 L945.7 361.1 L946.1 363.4 L946.5 361.6 L946.9 362.8 L947.3 356.9 L947.7 359.5 L948.1 361.7 L948.5 360.6 L948.9 362.0 L949.3 357.2 L949.7 362.7 L950.1 354.6 L950.5 358.2 L950.9 362.9 L951.3 362.1 L951.7 360.8 L952.1 360.1 L952.5 358.5 L952.9 362.2 L953.3 362.8 L953.7 361.4 L954.1 362.7 L954.5 362.2 L954.9 363.1 L955.3 353.9 L955.7 359.7 L956.1 361.6 L956.5 359.6 L956.9 361.4 L957.3 362.5 L957.7 360.2 L958.1 363.2 L958.5 362.7 L958.9 358.9 L959.3 361.1 L959.7 359.4 L960.1 360.7 L960.5 363.2 L960.9 360.5 L961.3 358.6 L961.7 361.7 L962.1 359.3 L962.5 361.3 L962.9 363.1 L963.3 359.1 L963.7 362.0 L964.1 356.6 L964.5 361.7 L964.9 362.4"/>
<path d="M72.5 695.5 L72.9 694.9 L73.3 693.4 L73.7 696.0 L74.1 698.5 L74.5 698.2 L74.9 687.0 L75.3 698.2 L75.7 696.0 L76.1 692.5 L76.5 697.1 L76.9 691.1 L77.3 698.3 L77.7 695.9 L78.1 690.7 L78.5 697.1 L78.9 697.0 L79.3 695.5 L79.7 696.6 L80.1 697.1 L80.5 696.4 L80.9 695.3 L81.3 696.7 L81.7 696.6 L82.1 696.1 L82.5 696.7 L82.9 696.5 L83.3 696.6 L83.7 695.0 L84.1 698.9 L84.5 692.5 L84.9 695.7 L85.3 696.2 L85.7 698.4 L86.1 697.3 L86.5 689.9 L86.9 695.0 L87.3 695.1 L87.7 697.6 L88.1 697.5 L88.5 696.8 L88.9 696.5 L89.3 694.7 L89.7 693.3 L90.1 693.8 L90.5 697.6 L90.9 694.2 L91.3 693.7 L91.7 696.1 L92.1 693.0 L92.5 697.8 L92.9 694.5 L93.3 695.6 L93.7 696.4 L94.1 698.4 L94.5 697.4 L94.9 698.4 L95.3 697.7 L95.7 697.9 L96.1 693.1 L96.5 693.4 L96.9 694.1 L97.3 697.9 L97.7 697.1 L98.1 697.5 L98.5 696.2 L98.9 696.7 L99.3 695.8 L99.7 696.6 L100.1 696.7 L100.5 691.6 L100.9 695.0 L101.3 698.3 L101.7 696.5 L102.1 695.7 L102.5 695.4 L102.9 698.3 L103.3 690.5 L103.7 694.4 L104.1 697.6 L104.5 696.2 L104.9 693.6 L105.3 693.0 L105.7 697.4 L106.1 697.8 L106.5 691.7 L106.9 694.6 L107.3 696.1 L107.7 691.8 L108.1 696.3 L108.5 697.4 L108.9 693.0 L109.3 695.4 L109.7 695.1 L110.1 687.0 L110.5 694.9 L110.9 697.9 L111.3 697.2 L111.7 692.6 L112.1 691.6 L112.5 695.4 L112.9 694.5 L113.3 693.2 L113.7 697.9 L114.1 697.7 L114.5 696.3 L114.9 694.7 L115.3 695.5 L115.7 695.2 L116.1 698.1 L116.5 696.8 L116.9 696.1 L117.3 696.8 L117.7 697.2 L118.1 694.4 L118.5 696.6 L118.9 697.6 L119.3 692.5 L119.7 695.7 L120.1 698.5 L120.5 694.8 L120.9 688.0 L121.3 693.1 L121.7 692.1 L122.1 691.4 L122.5 694.8 L122.9 697.3 L123.3 692.5 L123.7 698.0 L124.1 695.7 L124.5 694.2 L124.9 695.1 L125.3 696.8 L125.7 698.0 L126.1 688.4 L126.5 693.7 L126.9 697.1 L127.3 697.9 L127.7 695.6 L128.1 692.9 L128.5 695.4 L128.9 690.9 L129.3 697.4 L129.7 694.7 L130.1 694.8 L130.5 696.5 L130.9 690.6 L131.3 698.1 L131.7 693.4 L132.1 696.8 L132.5 696.3 L132.9 697.1 L133.3 694.5 L133.7 687.0 L134.1 692.9 L134.5 696.7 L134.9 697.4 L135.3 691.9 L135.7 697.2 L136.1 694.3 L136.5 697.3 L136.9 687.0 L137.3 687.0 L137.7 693.4 L138.1 697.4 L138.5 695.7 L138.9 695.2 L139.3 696.0 L139.7 693.4 L140.1 693.4 L140.5 695.2 L140.9 689.6 L141.3 697.6 L141.7 697.2 L142.1 698.8 L142.5 695.0 L142.9 696.6 L143.3 694.7 L143.7 697.4 L144.1 697.6 L144.5 695.7 L144.9 697.2 L145.3 695.0 L145.7 692.0 L146.1 696.1 L146.5 693.6 L146.9 695.6 L147.3 696.7 L147.7 697.6 L148.1 694.8 L148.5 697.4 L148.9 692.7 L149.3 694.9 L149.7 697.0 L150.1 697.9 L150.5 698.0 L150.9 691.0 L151.3 698.7 L151.7 697.4 L152.1 687.0 L152.5 693.0 L152.9 689.4 L153.3 694.2 L153.7 695.5 L154.1 694.5 L154.5 698.1 L154.9 697.4 L155.3 697.8 L155.7 698.0 L156.1 687.0 L156.5 697.6 L156.9 692.7 L157.3 698.7 L157.7 695.7 L158.1 693.9 L158.5 698.0 L158.9 696.5 L159.3 690.9 L159.7 687.0 L160.1 697.6 L160.5 688.5 L160.9 689.9 L161.3 692.6 L161.7 698.3 L162.1 697.4 L162.5 694.6 L162.9 696.0 L163.3 695.7 L163.7 694.3 L164.1 694.1 L164.5 691.7 L164.9 687.4 L165.3 688.7 L165.7 686.5 L166.1 683.0 L166.5 677.8 L166.9 676.8 L167.3 672.5 L167.7 672.0 L168.1 669.0 L168.5 664.3 L168.9 662.7 L169.3 658.5 L169.7 651.4 L170.1 643.5 L170.5 637.6 L170.9 630.9 L171.3 624.3 L171.7 618.1 L172.1 610.9 L172.5 603.6 L172.9 597.9 L173.3 587.4 L173.7 575.3 L174.1 564.0 L174.5 552.2 L174.9 540.4 L175.3 524.7 L175.7 508.7 L176.1 492.1 L176.5 475.4 L176.9 459.2 L177.3 437.9 L177.7 414.6 L178.1 391.9 L178.5 368.9 L178.6 363.5 M189.0 363.5 L189.3 386.0 L189.7 416.8 L190.1 447.3 L190.5 469.6 L190.9 488.5 L191.3 508.0 L191.7 527.8 L192.1 547.3 L192.5 566.5 L192.9 586.3 L193.3 599.7 L193.7 609.2 L194.1 618.0 L194.5 627.2 L194.9 636.0 L195.3 643.2 L195.7 653.1 L196.1 660.9 L196.5 662.2 L196.9 665.7 L197.3 667.8 L197.7 670.1 L198.1 673.3 L198.5 675.2 L198.9 676.5 L199.3 678.7 L199.7 682.0 L200.1 682.9 L200.5 679.7 L200.9 686.9 L201.3 688.4 L201.7 689.1 L202.1 692.1 L202.5 692.9 L202.9 687.7 L203.3 693.6 L203.7 689.1 L204.1 692.0 L204.5 692.0 L204.9 686.8 L205.3 686.6 L205.7 698.3 L206.1 692.0 L206.5 691.9 L206.9 694.7 L207.3 697.5 L207.7 698.1 L208.1 696.4 L208.5 694.7 L208.9 698.0 L209.3 692.1 L209.7 697.2 L210.1 696.6 L210.5 692.1 L210.9 696.8 L211.3 692.4 L211.7 695.2 L212.1 697.4 L212.5 697.2 L212.9 694.4 L213.3 693.5 L213.7 693.3 L214.1 691.3 L214.5 693.6 L214.9 694.0 L215.3 696.4 L215.7 695.9 L216.1 697.8 L216.5 697.0 L216.9 687.7 L217.3 696.7 L217.7 698.6 L218.1 698.0 L218.5 690.4 L218.9 698.1 L219.3 687.0 L219.7 694.8 L220.1 694.0 L220.5 693.9 L220.9 696.9 L221.3 697.5 L221.7 697.0 L222.1 693.6 L222.5 697.9 L222.9 695.7 L223.3 695.0 L223.7 694.3 L224.1 691.2 L224.5 698.2 L224.9 688.5 L225.3 697.1 L225.7 693.7 L226.1 696.1 L226.5 696.3 L226.9 697.1 L227.3 690.3 L227.7 696.7 L228.1 692.2 L228.5 698.1 L228.9 697.1 L229.3 692.3 L229.7 696.7 L230.1 695.6 L230.5 692.1 L230.9 693.2 L231.3 692.9 L231.7 693.9 L232.1 695.7 L232.5 695.2 L232.9 694.3 L233.3 695.1 L233.7 695.5 L234.1 696.9 L234.5 697.6 L234.9 696.4 L235.3 697.4 L235.7 698.3 L236.1 692.8 L236.5 697.8 L236.9 692.9 L237.3 694.0 L237.7 695.8 L238.1 689.8 L238.5 698.2 L238.9 695.7 L239.3 690.9 L239.7 694.9 L240.1 697.4 L240.5 698.1 L240.9 695.6 L241.3 696.8 L241.7 693.3 L242.1 694.0 L242.5 697.0 L242.9 690.8 L243.3 693.6 L243.7 697.8 L244.1 698.1 L244.5 698.0 L244.9 697.5 L245.3 694.5 L245.7 695.2 L246.1 690.6 L246.5 694.6 L246.9 692.4 L247.3 696.3 L247.7 696.9 L248.1 697.4 L248.5 698.1 L248.9 688.3 L249.3 697.6 L249.7 692.2 L250.1 696.8 L250.5 694.3 L250.9 694.0 L251.3 691.1 L251.7 697.2 L252.1 695.3 L252.5 694.0 L252.9 693.9 L253.3 691.7 L253.7 697.6 L254.1 693.2 L254.5 696.7 L254.9 698.4 L255.3 697.7 L255.7 694.5 L256.1 695.4 L256.5 697.4 L256.9 696.7 L257.3 695.6 L257.7 693.3 L258.1 697.7 L258.5 697.9 L258.9 692.4 L259.3 692.0 L259.7 697.9 L260.1 691.8 L260.5 694.8 L260.9 697.3 L261.3 695.9 L261.7 695.7 L262.1 697.8 L262.5 697.6 L262.9 690.6 L263.3 695.0 L263.7 695.5 L264.1 695.5 L264.5 696.5 L264.9 695.9 L265.3 692.6 L265.7 696.6 L266.1 693.9 L266.5 698.5 L266.9 696.0 L267.3 693.7 L267.7 695.2 L268.1 697.4 L268.5 694.4 L268.9 690.2 L269.3 698.8 L269.7 695.4 L270.1 695.6 L270.5 695.3 L270.9 697.9 L271.3 691.2 L271.7 697.8 L272.1 696.0 L272.5 693.9 L272.9 693.3 L273.3 690.2 L273.7 697.8 L274.1 697.3 L274.5 693.5 L274.9 694.2 L275.3 696.1 L275.7 696.0 L276.1 696.3 L276.5 696.5 L276.9 698.4 L277.3 691.5 L277.7 698.3 L278.1 694.6 L278.5 697.2 L278.9 691.8 L279.3 697.5 L279.7 697.5 L280.1 693.0 L280.5 697.8 L280.9 693.9 L281.3 696.9 L281.7 696.1 L282.1 692.5 L282.5 693.2 L282.9 697.0 L283.3 694.6 L283.7 694.4 L284.1 693.7 L284.5 697.1 L284.9 689.0 L285.3 697.4 L285.7 698.2 L286.1 696.7 L286.5 695.7 L286.9 687.0 L287.3 697.6 L287.7 696.2 L288.1 697.3 L288.5 695.8 L288.9 696.5 L289.3 691.7 L289.7 697.6 L290.1 697.3 L290.5 694.5 L290.9 695.9 L291.3 692.5 L291.7 697.1 L292.1 693.1 L292.5 697.0 L292.9 697.5 L293.3 693.4 L293.7 695.3 L294.1 695.4 L294.5 697.9 L294.9 697.2 L295.3 695.2 L295.7 697.3 L296.1 697.8 L296.5 697.3 L296.9 694.7 L297.3 698.1 L297.7 693.3 L298.1 698.3 L298.5 696.6 L298.9 695.6 L299.3 697.2 L299.7 696.2 L300.1 698.6 L300.5 697.1 L300.9 694.4 L301.3 695.5 L301.7 696.7 L302.1 695.0 L302.5 696.8 L302.9 696.9 L303.3 693.8 L303.7 696.9 L304.1 697.4 L304.5 693.6 L304.9 687.2 L305.3 698.7 L305.7 691.5 L306.1 690.0 L306.5 697.4 L306.9 698.2 L307.3 697.8 L307.7 694.2 L308.1 697.6 L308.5 698.5 L308.9 698.5 L309.3 694.8 L309.7 696.0 L310.1 696.0 L310.5 693.2 L310.9 692.3 L311.3 696.7 L311.7 694.8 L312.1 692.4 L312.5 694.7 L312.9 698.2 L313.3 690.3 L313.7 697.6 L314.1 698.1 L314.5 694.8 L314.9 697.0 L315.3 697.3 L315.7 693.2 L316.1 694.8 L316.5 696.0 L316.9 691.8 L317.3 697.1 L317.7 697.9 L318.1 692.3 L318.5 691.1 L318.9 695.8 L319.3 694.7 L319.7 694.3 L320.1 696.4 L320.5 698.7 L320.9 694.3 L321.3 696.8 L321.7 695.3 L322.1 696.2 L322.5 692.3 L322.9 694.9 L323.3 696.0 L323.7 698.8 L324.1 697.0 L324.5 690.7 L324.9 688.8 L325.3 693.6 L325.7 695.7 L326.1 696.5 L326.5 698.7 L326.9 697.6 L327.3 694.9 L327.7 696.9 L328.1 694.4 L328.5 687.3 L328.9 691.0 L329.3 692.0 L329.7 694.4 L330.1 693.9 L330.5 691.5 L330.9 693.9 L331.3 697.5 L331.7 695.8 L332.1 694.6 L332.5 689.4 L332.9 695.9 L333.3 697.9 L333.7 689.5 L334.1 698.5 L334.5 695.5 L334.9 696.7 L335.3 696.4 L335.7 688.9 L336.1 697.4 L336.5 698.2 L336.9 696.3 L337.3 696.6 L337.7 694.8 L338.1 697.0 L338.5 697.4 L338.9 696.1 L339.3 696.4 L339.7 697.7 L340.1 697.8 L340.5 696.1 L340.9 693.5 L341.3 695.8 L341.7 697.5 L342.1 697.5 L342.5 697.3 L342.9 695.8 L343.3 687.0 L343.7 694.4 L344.1 696.7 L344.5 698.2 L344.9 692.0 L345.3 695.4 L345.7 689.9 L346.1 692.0 L346.5 696.6 L346.9 694.1 L347.3 698.7 L347.7 696.3 L348.1 696.1 L348.5 696.5 L348.9 697.6 L349.3 697.1 L349.7 698.4 L350.1 691.6 L350.5 698.2 L350.9 697.7 L351.3 687.0 L351.7 687.0 L352.1 691.7 L352.5 691.8 L352.9 693.7 L353.3 696.3 L353.7 698.3 L354.1 690.9 L354.5 688.6 L354.9 693.7 L355.3 698.4 L355.7 687.0 L356.1 696.3 L356.5 692.5 L356.9 695.7 L357.3 696.1 L357.7 691.3 L358.1 688.7 L358.5 694.5 L358.9 691.4 L359.3 697.7 L359.7 696.4 L360.1 696.6 L360.5 697.5 L360.9 693.4 L361.3 696.8 L361.7 697.2 L362.1 695.8 L362.5 697.3 L362.9 698.7 L363.3 696.7 L363.7 698.5 L364.1 691.2 L364.5 694.0 L364.9 694.5 L365.3 696.0 L365.7 697.4 L366.1 692.1 L366.5 696.3 L366.9 693.4 L367.3 695.9 L367.7 694.6 L368.1 695.1 L368.5 697.9 L368.9 697.9 L369.3 695.8 L369.7 698.1 L370.1 697.0 L370.5 696.6 L370.9 695.4 L371.3 696.4 L371.7 692.8 L372.1 696.1 L372.5 698.4 L372.9 697.2 L373.3 698.4 L373.7 695.1 L374.1 690.1 L374.5 696.8 L374.9 694.2 L375.3 691.2 L375.7 696.5 L376.1 692.9 L376.5 692.8 L376.9 693.8 L377.3 693.8 L377.7 694.8 L378.1 698.5 L378.5 698.1 L378.9 697.1 L379.3 697.4 L379.7 692.5 L380.1 693.5 L380.5 695.6 L380.9 694.1 L381.3 696.3 L381.7 696.3 L382.1 696.2 L382.5 695.1 L382.9 696.0 L383.3 694.6 L383.7 690.4 L384.1 695.6 L384.5 693.7 L384.9 685.5 L385.3 690.8 L385.7 691.5 L386.1 692.4 L386.5 691.8 L386.9 686.4 L387.3 687.5 L387.7 687.3 L388.1 686.6 L388.5 687.8 L388.9 686.0 L389.3 685.6 L389.7 685.5 L390.1 683.5 L390.5 682.9 L390.9 679.2 L391.3 672.9 L391.7 668.7 L392.1 662.9 L392.5 646.2 L392.9 630.0 L393.3 620.7 L393.7 610.8 L394.1 601.5 L394.5 592.0 L394.9 583.6 L395.3 575.8 L395.7 571.6 L396.1 579.2 L396.5 586.3 L396.9 594.2 L397.3 598.8 L397.7 603.6 L398.1 608.3 L398.5 612.9 L398.9 617.9 L399.3 622.0 L399.7 626.2 L400.1 630.8 L400.5 635.3 L400.9 641.6 L401.3 645.9 L401.7 650.0 L402.1 653.0 L402.5 657.0 L402.9 660.4 L403.3 664.4 L403.7 666.3 L404.1 671.5 L404.5 674.3 L404.9 673.5 L405.3 679.2 L405.7 682.2 L406.1 682.2 L406.5 685.1 L406.9 689.3 L407.3 691.5 L407.7 691.7 L408.1 688.6 L408.5 695.9 L408.9 694.3 L409.3 697.2 L409.7 698.5 L410.1 694.7 L410.5 697.8 L410.9 696.4 L411.3 692.7 L411.7 697.7 L412.1 696.3 L412.5 696.5 L412.9 698.1 L413.3 696.0 L413.7 694.3 L414.1 698.4 L414.5 693.5 L414.9 695.0 L415.3 694.3 L415.7 695.2 L416.1 687.0 L416.5 693.7 L416.9 693.4 L417.3 696.8 L417.7 694.5 L418.1 693.2 L418.5 695.7 L418.9 696.7 L419.3 691.7 L419.7 697.0 L420.1 697.5 L420.5 695.3 L420.9 694.5 L421.3 696.2 L421.7 696.3 L422.1 694.8 L422.5 696.9 L422.9 697.0 L423.3 696.7 L423.7 698.4 L424.1 697.6 L424.5 698.0 L424.9 693.9 L425.3 694.4 L425.7 698.5 L426.1 697.8 L426.5 696.2 L426.9 689.1 L427.3 695.7 L427.7 696.5 L428.1 693.3 L428.5 690.4 L428.9 696.7 L429.3 698.5 L429.7 693.3 L430.1 690.9 L430.5 695.8 L430.9 695.0 L431.3 697.6 L431.7 693.8 L432.1 696.5 L432.5 697.2 L432.9 690.5 L433.3 694.5 L433.7 692.5 L434.1 694.6 L434.5 698.0 L434.9 697.9 L435.3 697.6 L435.7 694.4 L436.1 696.6 L436.5 696.5 L436.9 695.6 L437.3 697.0 L437.7 697.1 L438.1 696.9 L438.5 696.5 L438.9 698.1 L439.3 694.5 L439.7 696.3 L440.1 695.7 L440.5 697.2 L440.9 693.2 L441.3 698.5 L441.7 697.0 L442.1 693.0 L442.5 695.3 L442.9 695.5 L443.3 697.9 L443.7 698.1 L444.1 695.7 L444.5 695.9 L444.9 691.9 L445.3 697.4 L445.7 696.8 L446.1 697.1 L446.5 697.1 L446.9 696.5 L447.3 695.9 L447.7 696.1 L448.1 694.8 L448.5 691.5 L448.9 696.1 L449.3 697.0 L449.7 691.4 L450.1 695.0 L450.5 696.4 L450.9 696.4 L451.3 695.6 L451.7 691.1 L452.1 689.7 L452.5 694.0 L452.9 696.6 L453.3 689.9 L453.7 697.5 L454.1 695.8 L454.5 689.5 L454.9 695.3 L455.3 698.2 L455.7 695.6 L456.1 695.3 L456.5 693.1 L456.9 698.2 L457.3 690.3 L457.7 697.9 L458.1 693.3 L458.5 697.9 L458.9 697.5 L459.3 695.1 L459.7 697.4 L460.1 696.3 L460.5 692.3 L460.9 696.4 L461.3 697.9 L461.7 692.6 L462.1 696.4 L462.5 698.5 L462.9 695.2 L463.3 695.6 L463.7 697.6 L464.1 695.6 L464.5 695.9 L464.9 694.5 L465.3 696.5 L465.7 698.4 L466.1 694.3 L466.5 695.6 L466.9 697.9 L467.3 694.9 L467.7 690.6 L468.1 698.0 L468.5 694.9 L468.9 698.8 L469.3 696.2 L469.7 691.2 L470.1 697.9 L470.5 698.0 L470.9 695.0 L471.3 695.3 L471.7 697.2 L472.1 694.3 L472.5 697.5 L472.9 694.3 L473.3 690.7 L473.7 698.0 L474.1 692.1 L474.5 691.3 L474.9 696.8 L475.3 691.8 L475.7 695.6 L476.1 691.8 L476.5 686.1 L476.9 688.8 L477.3 687.0 L477.7 686.6 L478.1 684.3 L478.5 681.0 L478.9 678.7 L479.3 675.4 L479.7 674.2 L480.1 670.1 L480.5 668.2 L480.9 666.1 L481.3 661.4 L481.7 661.4 L482.1 660.4 L482.5 657.2 L482.9 658.2 L483.3 656.2 L483.7 655.3 L484.1 655.3 L484.5 653.4 L484.9 653.4 L485.3 652.3 L485.7 650.6 L486.1 649.7 L486.5 649.3 L486.9 650.8 L487.3 652.9 L487.7 654.7 L488.1 657.2 L488.5 660.4 L488.9 663.3 L489.3 663.6 L489.7 666.5 L490.1 668.2 L490.5 670.9 L490.9 670.4 L491.3 673.1 L491.7 675.3 L492.1 677.1 L492.5 677.5 L492.9 679.1 L493.3 679.4 L493.7 680.6 L494.1 681.0 L494.5 684.1 L494.9 682.4 L495.3 687.4 L495.7 687.5 L496.1 689.5 L496.5 690.7 L496.9 691.4 L497.3 687.8 L497.7 695.5 L498.1 696.0 L498.5 696.5 L498.9 695.9 L499.3 693.3 L499.7 694.2 L500.1 697.0 L500.5 697.5 L500.9 697.9 L501.3 691.2 L501.7 692.0 L502.1 697.7 L502.5 689.5 L502.9 693.7 L503.3 695.7 L503.7 696.1 L504.1 695.5 L504.5 691.4 L504.9 698.5 L505.3 693.2 L505.7 694.4 L506.1 695.8 L506.5 697.4 L506.9 695.6 L507.3 697.5 L507.7 696.6 L508.1 698.4 L508.5 696.2 L508.9 698.8 L509.3 696.2 L509.7 698.1 L510.1 696.7 L510.5 696.3 L510.9 694.4 L511.3 697.4 L511.7 698.1 L512.1 696.9 L512.5 693.9 L512.9 693.7 L513.3 692.0 L513.7 691.7 L514.1 691.5 L514.5 694.6 L514.9 685.8 L515.3 689.7 L515.7 690.0 L516.1 689.5 L516.5 687.1 L516.9 687.1 L517.3 685.1 L517.7 682.8 L518.1 683.0 L518.5 681.6 L518.9 683.9 L519.3 681.3 L519.7 679.4 L520.1 680.8 L520.5 680.0 L520.9 680.3 L521.3 679.1 L521.7 677.1 L522.1 674.6 L522.5 670.0 L522.9 666.0 L523.3 662.4 L523.7 658.5 L524.1 648.6 L524.5 638.4 L524.9 626.9 L525.3 614.8 L525.7 602.9 L526.1 587.9 L526.5 571.7 L526.9 556.1 L527.3 534.4 L527.7 497.2 L528.1 459.9 L528.5 449.6 L528.9 438.8 L529.3 428.6 L529.7 418.1 L530.1 407.6 L530.5 397.1 L530.9 413.8 L531.3 430.6 L531.7 447.5 L532.1 464.8 L532.5 484.8 L532.9 504.6 L533.3 524.2 L533.7 543.8 L534.1 588.9 L534.5 607.6 L534.9 617.4 L535.3 627.0 L535.7 636.7 L536.1 646.6 L536.5 656.3 L536.9 661.2 L537.3 665.5 L537.7 667.6 L538.1 675.5 L538.5 680.4 L538.9 680.5 L539.3 680.8 L539.7 685.6 L540.1 687.2 L540.5 686.8 L540.9 691.8 L541.3 693.4 L541.7 696.2 L542.1 696.3 L542.5 692.8 L542.9 689.4 L543.3 688.5 L543.7 697.1 L544.1 697.9 L544.5 696.6 L544.9 697.2 L545.3 696.9 L545.7 695.4 L546.1 698.0 L546.5 697.6 L546.9 694.7 L547.3 694.6 L547.7 694.7 L548.1 698.2 L548.5 695.4 L548.9 692.5 L549.3 696.5 L549.7 697.8 L550.1 696.9 L550.5 692.3 L550.9 692.8 L551.3 697.8 L551.7 697.5 L552.1 695.3 L552.5 691.8 L552.9 691.1 L553.3 698.9 L553.7 696.4 L554.1 697.1 L554.5 695.6 L554.9 688.9 L555.3 695.3 L555.7 697.5 L556.1 689.8 L556.5 692.6 L556.9 695.0 L557.3 693.8 L557.7 696.5 L558.1 695.3 L558.5 698.1 L558.9 691.8 L559.3 695.0 L559.7 697.3 L560.1 690.4 L560.5 691.4 L560.9 691.9 L561.3 695.5 L561.7 694.0 L562.1 697.8 L562.5 696.9 L562.9 697.7 L563.3 693.6 L563.7 696.9 L564.1 695.4 L564.5 696.6 L564.9 695.4 L565.3 697.2 L565.7 695.2 L566.1 697.9 L566.5 695.7 L566.9 694.4 L567.3 698.3 L567.7 692.8 L568.1 690.6 L568.5 697.5 L568.9 696.6 L569.3 697.7 L569.7 692.4 L570.1 689.0 L570.5 695.3 L570.9 698.7 L571.3 690.9 L571.7 698.5 L572.1 693.1 L572.5 695.2 L572.9 696.4 L573.3 696.8 L573.7 697.5 L574.1 696.9 L574.5 693.1 L574.9 694.9 L575.3 696.8 L575.7 697.7 L576.1 697.8 L576.5 697.0 L576.9 694.2 L577.3 694.6 L577.7 695.4 L578.1 697.0 L578.5 696.9 L578.9 696.3 L579.3 694.2 L579.7 698.3 L580.1 698.0 L580.5 695.7 L580.9 687.0 L581.3 693.3 L581.7 692.8 L582.1 696.9 L582.5 694.3 L582.9 697.9 L583.3 698.1 L583.7 695.8 L584.1 691.0 L584.5 693.0 L584.9 687.0 L585.3 687.0 L585.7 694.9 L586.1 695.5 L586.5 697.2 L586.9 695.7 L587.3 696.5 L587.7 694.6 L588.1 698.2 L588.5 696.7 L588.9 698.5 L589.3 692.7 L589.7 698.6 L590.1 687.9 L590.5 692.2 L590.9 697.0 L591.3 695.4 L591.7 688.0 L592.1 698.8 L592.5 694.7 L592.9 690.3 L593.3 694.2 L593.7 695.0 L594.1 696.4 L594.5 697.6 L594.9 696.4 L595.3 696.1 L595.7 694.5 L596.1 695.0 L596.5 693.8 L596.9 696.1 L597.3 695.7 L597.7 695.8 L598.1 697.1 L598.5 697.1 L598.9 698.3 L599.3 698.3 L599.7 695.5 L600.1 698.6 L600.5 695.7 L600.9 698.3 L601.3 697.8 L601.7 694.2 L602.1 696.3 L602.5 694.3 L602.9 695.4 L603.3 697.3 L603.7 696.6 L604.1 694.1 L604.5 696.1 L604.9 693.3 L605.3 697.6 L605.7 697.6 L606.1 698.2 L606.5 693.5 L606.9 690.8 L607.3 697.1 L607.7 697.3 L608.1 698.1 L608.5 692.9 L608.9 696.8 L609.3 695.6 L609.7 695.9 L610.1 698.4 L610.5 698.6 L610.9 691.2 L611.3 692.5 L611.7 693.1 L612.1 696.6 L612.5 697.6 L612.9 696.1 L613.3 697.8 L613.7 695.4 L614.1 696.0 L614.5 697.0 L614.9 695.4 L615.3 696.7 L615.7 697.9 L616.1 697.6 L616.5 696.4 L616.9 696.8 L617.3 694.0 L617.7 695.6 L618.1 695.3 L618.5 698.2 L618.9 696.6 L619.3 698.3 L619.7 697.3 L620.1 694.7 L620.5 697.4 L620.9 697.0 L621.3 695.7 L621.7 697.0 L622.1 692.8 L622.5 697.2 L622.9 696.6 L623.3 691.8 L623.7 695.8 L624.1 696.5 L624.5 689.4 L624.9 695.4 L625.3 691.8 L625.7 694.4 L626.1 694.3 L626.5 691.5 L626.9 694.7 L627.3 696.8 L627.7 696.3 L628.1 696.1 L628.5 692.2 L628.9 693.0 L629.3 695.4 L629.7 695.9 L630.1 695.4 L630.5 692.5 L630.9 689.0 L631.3 695.2 L631.7 697.7 L632.1 698.1 L632.5 697.8 L632.9 688.9 L633.3 698.1 L633.7 696.9 L634.1 695.7 L634.5 697.6 L634.9 695.7 L635.3 694.7 L635.7 695.2 L636.1 692.7 L636.5 688.6 L636.9 698.7 L637.3 687.0 L637.7 692.7 L638.1 697.4 L638.5 692.0 L638.9 695.1 L639.3 697.8 L639.7 696.9 L640.1 698.2 L640.5 693.8 L640.9 696.5 L641.3 691.2 L641.7 696.5 L642.1 696.6 L642.5 697.8 L642.9 689.3 L643.3 688.9 L643.7 691.6 L644.1 691.0 L644.5 693.9 L644.9 695.6 L645.3 696.7 L645.7 695.9 L646.1 694.4 L646.5 693.5 L646.9 691.6 L647.3 693.3 L647.7 695.7 L648.1 697.6 L648.5 697.4 L648.9 696.6 L649.3 693.8 L649.7 692.8 L650.1 697.2 L650.5 696.8 L650.9 698.7 L651.3 698.7 L651.7 694.5 L652.1 687.0 L652.5 697.6 L652.9 697.6 L653.3 697.9 L653.7 693.8 L654.1 698.4 L654.5 687.0 L654.9 696.4 L655.3 692.0 L655.7 697.9 L656.1 696.1 L656.5 692.4 L656.9 698.8 L657.3 698.2 L657.7 689.5 L658.1 688.1 L658.5 695.7 L658.9 697.8 L659.3 696.0 L659.7 698.5 L660.1 693.4 L660.5 695.6 L660.9 695.9 L661.3 697.6 L661.7 693.3 L662.1 698.7 L662.5 694.0 L662.9 697.5 L663.3 698.3 L663.7 697.5 L664.1 694.7 L664.5 692.3 L664.9 687.0 L665.3 694.4 L665.7 694.7 L666.1 696.3 L666.5 695.1 L666.9 697.2 L667.3 697.3 L667.7 695.2 L668.1 694.5 L668.5 698.8 L668.9 695.9 L669.3 696.8 L669.7 695.5 L670.1 690.4 L670.5 687.8 L670.9 694.6 L671.3 691.5 L671.7 692.9 L672.1 698.8 L672.5 695.2 L672.9 698.7 L673.3 698.9 L673.7 696.5 L674.1 696.8 L674.5 692.1 L674.9 696.6 L675.3 698.4 L675.7 696.7 L676.1 697.6 L676.5 698.2 L676.9 693.9 L677.3 696.4 L677.7 691.0 L678.1 695.5 L678.5 689.5 L678.9 697.4 L679.3 697.3 L679.7 697.3 L680.1 696.0 L680.5 691.3 L680.9 695.0 L681.3 698.2 L681.7 695.4 L682.1 698.7 L682.5 696.4 L682.9 697.3 L683.3 689.9 L683.7 694.5 L684.1 692.1 L684.5 696.0 L684.9 693.1 L685.3 697.0 L685.7 695.0 L686.1 695.5 L686.5 695.5 L686.9 695.9 L687.3 697.8 L687.7 694.4 L688.1 696.2 L688.5 697.1 L688.9 695.7 L689.3 693.7 L689.7 693.9 L690.1 696.3 L690.5 692.8 L690.9 698.3 L691.3 694.1 L691.7 696.9 L692.1 696.0 L692.5 695.8 L692.9 688.9 L693.3 698.8 L693.7 693.6 L694.1 694.5 L694.5 695.4 L694.9 697.0 L695.3 695.9 L695.7 689.4 L696.1 698.5 L696.5 690.7 L696.9 692.3 L697.3 693.8 L697.7 687.0 L698.1 691.4 L698.5 698.8 L698.9 696.4 L699.3 694.8 L699.7 697.7 L700.1 695.0 L700.5 687.6 L700.9 696.0 L701.3 694.4 L701.7 698.1 L702.1 692.4 L702.5 694.2 L702.9 694.7 L703.3 697.7 L703.7 695.9 L704.1 698.5 L704.5 689.8 L704.9 696.9 L705.3 697.1 L705.7 695.5 L706.1 694.2 L706.5 698.1 L706.9 698.3 L707.3 695.1 L707.7 694.4 L708.1 687.8 L708.5 695.1 L708.9 693.5 L709.3 696.8 L709.7 696.4 L710.1 693.9 L710.5 694.3 L710.9 692.8 L711.3 694.0 L711.7 697.3 L712.1 693.8 L712.5 695.8 L712.9 698.5 L713.3 698.8 L713.7 699.0 L714.1 697.8 L714.5 697.6 L714.9 696.8 L715.3 691.2 L715.7 693.9 L716.1 698.0 L716.5 697.1 L716.9 696.2 L717.3 696.3 L717.7 692.6 L718.1 693.3 L718.5 691.0 L718.9 694.9 L719.3 696.4 L719.7 696.5 L720.1 694.0 L720.5 693.7 L720.9 692.2 L721.3 691.6 L721.7 697.8 L722.1 697.4 L722.5 693.9 L722.9 697.5 L723.3 694.0 L723.7 698.1 L724.1 690.6 L724.5 693.0 L724.9 695.7 L725.3 696.9 L725.7 695.5 L726.1 698.3 L726.5 697.4 L726.9 688.9 L727.3 696.5 L727.7 692.1 L728.1 695.1 L728.5 698.0 L728.9 698.7 L729.3 695.7 L729.7 697.4 L730.1 696.8 L730.5 687.0 L730.9 695.6 L731.3 697.3 L731.7 696.6 L732.1 695.0 L732.5 697.7 L732.9 698.1 L733.3 691.3 L733.7 695.1 L734.1 690.8 L734.5 697.2 L734.9 697.5 L735.3 697.2 L735.7 698.0 L736.1 697.8 L736.5 695.5 L736.9 695.5 L737.3 696.3 L737.7 696.7 L738.1 692.6 L738.5 692.9 L738.9 694.1 L739.3 691.4 L739.7 694.5 L740.1 695.9 L740.5 694.3 L740.9 692.8 L741.3 687.4 L741.7 696.2 L742.1 695.9 L742.5 698.0 L742.9 697.2 L743.3 698.1 L743.7 696.7 L744.1 696.5 L744.5 692.8 L744.9 687.0 L745.3 696.9 L745.7 697.4 L746.1 698.0 L746.5 690.7 L746.9 693.0 L747.3 698.0 L747.7 696.0 L748.1 697.7 L748.5 695.2 L748.9 693.9 L749.3 696.6 L749.7 698.5 L750.1 697.8 L750.5 697.6 L750.9 687.6 L751.3 690.9 L751.7 694.3 L752.1 697.5 L752.5 697.3 L752.9 697.4 L753.3 693.6 L753.7 698.6 L754.1 693.2 L754.5 698.2 L754.9 692.5 L755.3 694.3 L755.7 695.8 L756.1 695.8 L756.5 696.7 L756.9 687.0 L757.3 696.7 L757.7 696.0 L758.1 695.5 L758.5 696.8 L758.9 691.3 L759.3 697.6 L759.7 697.4 L760.1 698.5 L760.5 694.9 L760.9 696.8 L761.3 695.6 L761.7 693.5 L762.1 697.4 L762.5 695.6 L762.9 697.2 L763.3 689.6 L763.7 698.3 L764.1 692.4 L764.5 694.2 L764.9 692.1 L765.3 695.2 L765.7 696.0 L766.1 698.1 L766.5 696.2 L766.9 696.2 L767.3 697.9 L767.7 692.1 L768.1 691.0 L768.5 698.3 L768.9 693.6 L769.3 694.2 L769.7 692.4 L770.1 696.1 L770.5 695.3 L770.9 690.9 L771.3 696.6 L771.7 693.2 L772.1 698.0 L772.5 694.0 L772.9 696.2 L773.3 694.4 L773.7 697.6 L774.1 695.1 L774.5 692.9 L774.9 688.5 L775.3 687.4 L775.7 684.0 L776.1 680.9 L776.5 678.1 L776.9 677.6 L777.3 677.6 L777.7 676.8 L778.1 678.8 L778.5 677.5 L778.9 676.0 L779.3 678.6 L779.7 680.2 L780.1 681.4 L780.5 681.1 L780.9 680.4 L781.3 685.3 L781.7 687.9 L782.1 691.7 L782.5 694.7 L782.9 694.4 L783.3 697.8 L783.7 697.7 L784.1 694.2 L784.5 695.9 L784.9 695.7 L785.3 694.7 L785.7 695.0 L786.1 691.1 L786.5 695.2 L786.9 698.8 L787.3 697.0 L787.7 695.7 L788.1 693.7 L788.5 695.0 L788.9 696.0 L789.3 692.2 L789.7 687.8 L790.1 690.7 L790.5 696.4 L790.9 694.5 L791.3 694.2 L791.7 696.1 L792.1 693.2 L792.5 697.2 L792.9 694.6 L793.3 693.4 L793.7 694.7 L794.1 697.0 L794.5 695.4 L794.9 689.3 L795.3 697.8 L795.7 695.4 L796.1 696.2 L796.5 698.3 L796.9 696.2 L797.3 692.2 L797.7 697.6 L798.1 697.3 L798.5 694.2 L798.9 694.2 L799.3 695.2 L799.7 697.1 L800.1 697.1 L800.5 697.6 L800.9 694.2 L801.3 693.7 L801.7 696.1 L802.1 697.9 L802.5 696.0 L802.9 695.1 L803.3 693.3 L803.7 695.7 L804.1 697.9 L804.5 697.2 L804.9 687.0 L805.3 692.6 L805.7 687.1 L806.1 694.1 L806.5 697.7 L806.9 697.5 L807.3 695.2 L807.7 695.9 L808.1 696.1 L808.5 694.1 L808.9 698.5 L809.3 691.1 L809.7 696.6 L810.1 692.3 L810.5 696.5 L810.9 692.6 L811.3 688.6 L811.7 697.9 L812.1 696.3 L812.5 694.2 L812.9 689.4 L813.3 690.6 L813.7 696.9 L814.1 695.7 L814.5 695.3 L814.9 689.4 L815.3 698.4 L815.7 695.9 L816.1 696.1 L816.5 693.4 L816.9 691.9 L817.3 692.7 L817.7 691.3 L818.1 692.6 L818.5 698.1 L818.9 696.7 L819.3 693.9 L819.7 693.8 L820.1 697.9 L820.5 697.5 L820.9 693.6 L821.3 697.3 L821.7 692.6 L822.1 687.7 L822.5 695.3 L822.9 694.1 L823.3 694.7 L823.7 692.0 L824.1 688.4 L824.5 694.2 L824.9 696.1 L825.3 697.6 L825.7 696.1 L826.1 696.8 L826.5 692.8 L826.9 692.2 L827.3 695.7 L827.7 695.7 L828.1 693.5 L828.5 697.1 L828.9 693.8 L829.3 694.9 L829.7 693.2 L830.1 695.6 L830.5 694.4 L830.9 697.6 L831.3 695.0 L831.7 696.0 L832.1 694.8 L832.5 687.6 L832.9 692.3 L833.3 695.8 L833.7 691.2 L834.1 696.9 L834.5 694.8 L834.9 695.1 L835.3 695.9 L835.7 696.3 L836.1 694.4 L836.5 695.6 L836.9 693.3 L837.3 696.1 L837.7 687.3 L838.1 689.2 L838.5 696.8 L838.9 693.8 L839.3 697.3 L839.7 691.6 L840.1 695.7 L840.5 695.1 L840.9 694.2 L841.3 698.9 L841.7 694.5 L842.1 689.6 L842.5 699.0 L842.9 693.4 L843.3 696.7 L843.7 691.3 L844.1 698.0 L844.5 695.8 L844.9 697.6 L845.3 696.5 L845.7 698.1 L846.1 695.5 L846.5 696.7 L846.9 689.5 L847.3 695.2 L847.7 696.6 L848.1 697.7 L848.5 697.4 L848.9 696.3 L849.3 693.6 L849.7 687.9 L850.1 695.9 L850.5 693.3 L850.9 698.5 L851.3 688.5 L851.7 695.5 L852.1 698.4 L852.5 698.1 L852.9 696.6 L853.3 692.4 L853.7 687.0 L854.1 695.8 L854.5 697.5 L854.9 694.6 L855.3 694.4 L855.7 697.9 L856.1 695.6 L856.5 695.3 L856.9 696.5 L857.3 691.9 L857.7 696.6 L858.1 697.4 L858.5 697.2 L858.9 698.4 L859.3 698.5 L859.7 698.7 L860.1 697.6 L860.5 695.2 L860.9 691.8 L861.3 697.8 L861.7 697.5 L862.1 696.2 L862.5 694.8 L862.9 692.3 L863.3 695.4 L863.7 697.5 L864.1 693.2 L864.5 698.7 L864.9 692.8 L865.3 691.5 L865.7 696.5 L866.1 697.6 L866.5 697.4 L866.9 698.2 L867.3 694.1 L867.7 695.9 L868.1 698.8 L868.5 697.7 L868.9 695.7 L869.3 687.8 L869.7 688.8 L870.1 693.7 L870.5 694.1 L870.9 694.2 L871.3 697.6 L871.7 693.6 L872.1 696.6 L872.5 687.0 L872.9 698.1 L873.3 694.6 L873.7 696.9 L874.1 687.0 L874.5 696.1 L874.9 695.9 L875.3 693.2 L875.7 696.6 L876.1 697.0 L876.5 689.3 L876.9 694.6 L877.3 698.2 L877.7 696.9 L878.1 695.3 L878.5 687.0 L878.9 695.1 L879.3 695.5 L879.7 696.8 L880.1 694.1 L880.5 698.5 L880.9 696.4 L881.3 696.0 L881.7 698.1 L882.1 694.2 L882.5 695.2 L882.9 698.7 L883.3 691.4 L883.7 697.9 L884.1 691.6 L884.5 698.5 L884.9 696.2 L885.3 687.0 L885.7 696.3 L886.1 697.3 L886.5 695.9 L886.9 698.3 L887.3 697.3 L887.7 692.4 L888.1 694.3 L888.5 696.8 L888.9 697.1 L889.3 697.7 L889.7 696.3 L890.1 694.6 L890.5 693.8 L890.9 693.0 L891.3 687.0 L891.7 696.3 L892.1 695.3 L892.5 697.8 L892.9 695.3 L893.3 698.0 L893.7 692.5 L894.1 692.7 L894.5 696.5 L894.9 694.9 L895.3 696.2 L895.7 697.0 L896.1 694.5 L896.5 695.8 L896.9 697.0 L897.3 695.3 L897.7 692.0 L898.1 696.1 L898.5 697.2 L898.9 695.9 L899.3 696.9 L899.7 695.4 L900.1 687.0 L900.5 696.4 L900.9 696.1 L901.3 696.3 L901.7 698.0 L902.1 694.8 L902.5 694.4 L902.9 697.3 L903.3 692.1 L903.7 697.1 L904.1 695.5 L904.5 698.3 L904.9 697.5 L905.3 696.9 L905.7 688.4 L906.1 695.9 L906.5 696.4 L906.9 696.3 L907.3 695.9 L907.7 698.9 L908.1 697.1 L908.5 696.7 L908.9 691.7 L909.3 696.1 L909.7 695.9 L910.1 694.3 L910.5 698.3 L910.9 693.5 L911.3 687.9 L911.7 697.9 L912.1 695.9 L912.5 698.0 L912.9 694.3 L913.3 694.5 L913.7 696.1 L914.1 695.5 L914.5 694.7 L914.9 696.9 L915.3 690.8 L915.7 697.1 L916.1 696.0 L916.5 687.3 L916.9 695.9 L917.3 693.0 L917.7 690.6 L918.1 692.8 L918.5 691.9 L918.9 698.4 L919.3 694.7 L919.7 694.9 L920.1 695.8 L920.5 692.8 L920.9 693.3 L921.3 690.2 L921.7 689.4 L922.1 688.4 L922.5 687.2 L922.9 684.9 L923.3 681.5 L923.7 680.9 L924.1 675.8 L924.5 676.8 L924.9 673.8 L925.3 672.0 L925.7 671.5 L926.1 670.2 L926.5 667.9 L926.9 666.3 L927.3 664.7 L927.7 664.1 L928.1 663.8 L928.5 664.5 L928.9 664.1 L929.3 666.2 L929.7 666.6 L930.1 669.0 L930.5 669.8 L930.9 671.8 L931.3 674.1 L931.7 673.8 L932.1 676.7 L932.5 674.6 L932.9 679.2 L933.3 680.6 L933.7 681.2 L934.1 684.1 L934.5 686.0 L934.9 688.2 L935.3 689.2 L935.7 689.8 L936.1 687.5 L936.5 689.2 L936.9 688.3 L937.3 687.2 L937.7 687.4 L938.1 685.7 L938.5 687.2 L938.9 686.5 L939.3 687.2 L939.7 688.2 L940.1 689.3 L940.5 689.3 L940.9 689.6 L941.3 691.4 L941.7 692.3 L942.1 690.6 L942.5 693.9 L942.9 691.8 L943.3 694.9 L943.7 697.0 L944.1 694.6 L944.5 697.5 L944.9 698.2 L945.3 698.3 L945.7 696.0 L946.1 697.5 L946.5 695.8 L946.9 694.4 L947.3 691.5 L947.7 697.1 L948.1 692.3 L948.5 697.8 L948.9 694.5 L949.3 696.5 L949.7 689.0 L950.1 697.2 L950.5 693.1 L950.9 696.1 L951.3 697.3 L951.7 696.8 L952.1 698.0 L952.5 695.7 L952.9 697.1 L953.3 696.6 L953.7 691.4 L954.1 697.8 L954.5 697.2 L954.9 695.9 L955.3 687.1 L955.7 697.8 L956.1 698.1 L956.5 692.4 L956.9 697.1 L957.3 697.9 L957.7 695.5 L958.1 697.6 L958.5 697.2 L958.9 696.9 L959.3 698.2 L959.7 696.4 L960.1 698.0 L960.5 694.8 L960.9 697.3 L961.3 698.2 L961.7 691.6 L962.1 693.6 L962.5 694.7 L962.9 696.3 L963.3 694.9 L963.7 697.8 L964.1 694.8 L964.5 698.6 L964.9 697.4"/>
</g>
<g stroke="#000" stroke-width="2.8" fill="none">
<line x1="72.7" y1="41" x2="72.7" y2="767.2"/>
<line x1="71.3" y1="765.8" x2="972" y2="765.8"/>
<line x1="103.5" y1="765" x2="103.5" y2="780" /><line x1="165.0" y1="765" x2="165.0" y2="773" /><line x1="226.5" y1="765" x2="226.5" y2="780" /><line x1="288.0" y1="765" x2="288.0" y2="773" /><line x1="349.5" y1="765" x2="349.5" y2="780" /><line x1="411.0" y1="765" x2="411.0" y2="773" /><line x1="472.5" y1="765" x2="472.5" y2="780" /><line x1="534.0" y1="765" x2="534.0" y2="773" /><line x1="595.5" y1="765" x2="595.5" y2="780" /><line x1="657.0" y1="765" x2="657.0" y2="773" /><line x1="718.5" y1="765" x2="718.5" y2="780" /><line x1="780.1" y1="765" x2="780.1" y2="773" /><line x1="841.6" y1="765" x2="841.6" y2="780" /><line x1="903.1" y1="765" x2="903.1" y2="773" /><line x1="964.6" y1="765" x2="964.6" y2="780" />
</g>
<g class="tl"><text x="103.5" y="813.5" text-anchor="middle">20</text><text x="226.5" y="813.5" text-anchor="middle">30</text><text x="349.5" y="813.5" text-anchor="middle">40</text><text x="472.5" y="813.5" text-anchor="middle">50</text><text x="595.5" y="813.5" text-anchor="middle">60</text><text x="718.5" y="813.5" text-anchor="middle">70</text><text x="841.6" y="813.5" text-anchor="middle">80</text><text x="964.6" y="813.5" text-anchor="middle">90</text></g>
<text x="230.4" y="325.2" class="st" text-anchor="middle">*</text><text x="297.2" y="222.0" class="st" text-anchor="middle">*</text><text x="316.2" y="325.5" class="st" text-anchor="middle">*</text><text x="391.0" y="287.4" class="st" text-anchor="middle">*</text><text x="563.9" y="323.3" class="st" text-anchor="middle">*</text><text x="632.7" y="285.7" class="st" text-anchor="middle">*</text><circle cx="403.4" cy="308.1" r="5.4" fill="#000"/><circle cx="493.8" cy="336.3" r="5.4" fill="#000"/><circle cx="797.5" cy="334.1" r="5.4" fill="#000"/><circle cx="408.0" cy="637.3" r="5.2" fill="#000"/><circle cx="498.2" cy="665.2" r="5.2" fill="#000"/><circle cx="397.3" cy="553.8" r="6.8" fill="none" stroke="#000" stroke-width="1.6"/><circle cx="487.5" cy="636.0" r="6.8" fill="none" stroke="#000" stroke-width="1.6"/><circle cx="778.7" cy="660.6" r="6.8" fill="none" stroke="#000" stroke-width="1.6"/><text x="194.5" y="69.6" class="g">G</text><text x="519.7" y="145.0" class="g">G</text><text x="916.3" y="341.8" class="g">G</text><text x="194.5" y="400.5" class="g">G</text><text x="535.3" y="408.2" class="g">G</text><text x="918.3" y="656.5" class="g">G</text>
<clipPath id="c1"><path d="M80 300 L120 300 L120 326.6 L102.4 326.6 L101.2 333 L96.7 333 L97.9 326.6 L80 326.6 Z"/></clipPath>
<text x="91" y="330.6" clip-path="url(#c1)" style="font-size:34px;font-style:italic;stroke:#000;stroke-width:1.5px">1</text>
<text transform="translate(84.5,668) skewX(-7)" style="font-size:34.5px;stroke:#000;stroke-width:1.1px">2</text>
<text transform="translate(50.4,559.3) rotate(-90)" style="font-size:37.5px">Интенсивность, о.е.</text>
<g class="xl">
<text x="453" y="864">2</text>
<text x="471.5" y="864" style="font-weight:normal;stroke-width:0">θ</text>
<text x="489" y="864">,</text>
<text x="508" y="864">град</text>
</g>
<text x="667" y="76.8" style="font-size:30px">G</text>
<g class="lb">
<text x="716.5" y="76.4" style="letter-spacing:0.5px">Графит</text>
<text x="712.5" y="130.8" style="letter-spacing:0.5px">NiFe</text>
<text x="786" y="130.8">O</text>
<text x="712.5" y="177.9">Ni</text>
<text x="713" y="229.6">Fe</text>
<text x="757" y="229.6">Ni</text>
</g>
<g style="font-size:16px">
<text x="776" y="140">2</text>
<text x="808.5" y="140">4</text>
</g>
<g style="font-size:18px;font-weight:bold;font-style:italic;stroke:#000;stroke-width:0.5px">
<text x="746.5" y="234.7">x</text>
<text x="785.5" y="233.2">y</text>
</g>
<text x="673" y="134" class="st" style="stroke:#000;stroke-width:0.6px">*</text>
<circle cx="679" cy="169" r="5.3"/>
<circle cx="678.6" cy="220.8" r="7.3" fill="none" stroke="#000" stroke-width="1.6"/>
</svg>
</body></html>
